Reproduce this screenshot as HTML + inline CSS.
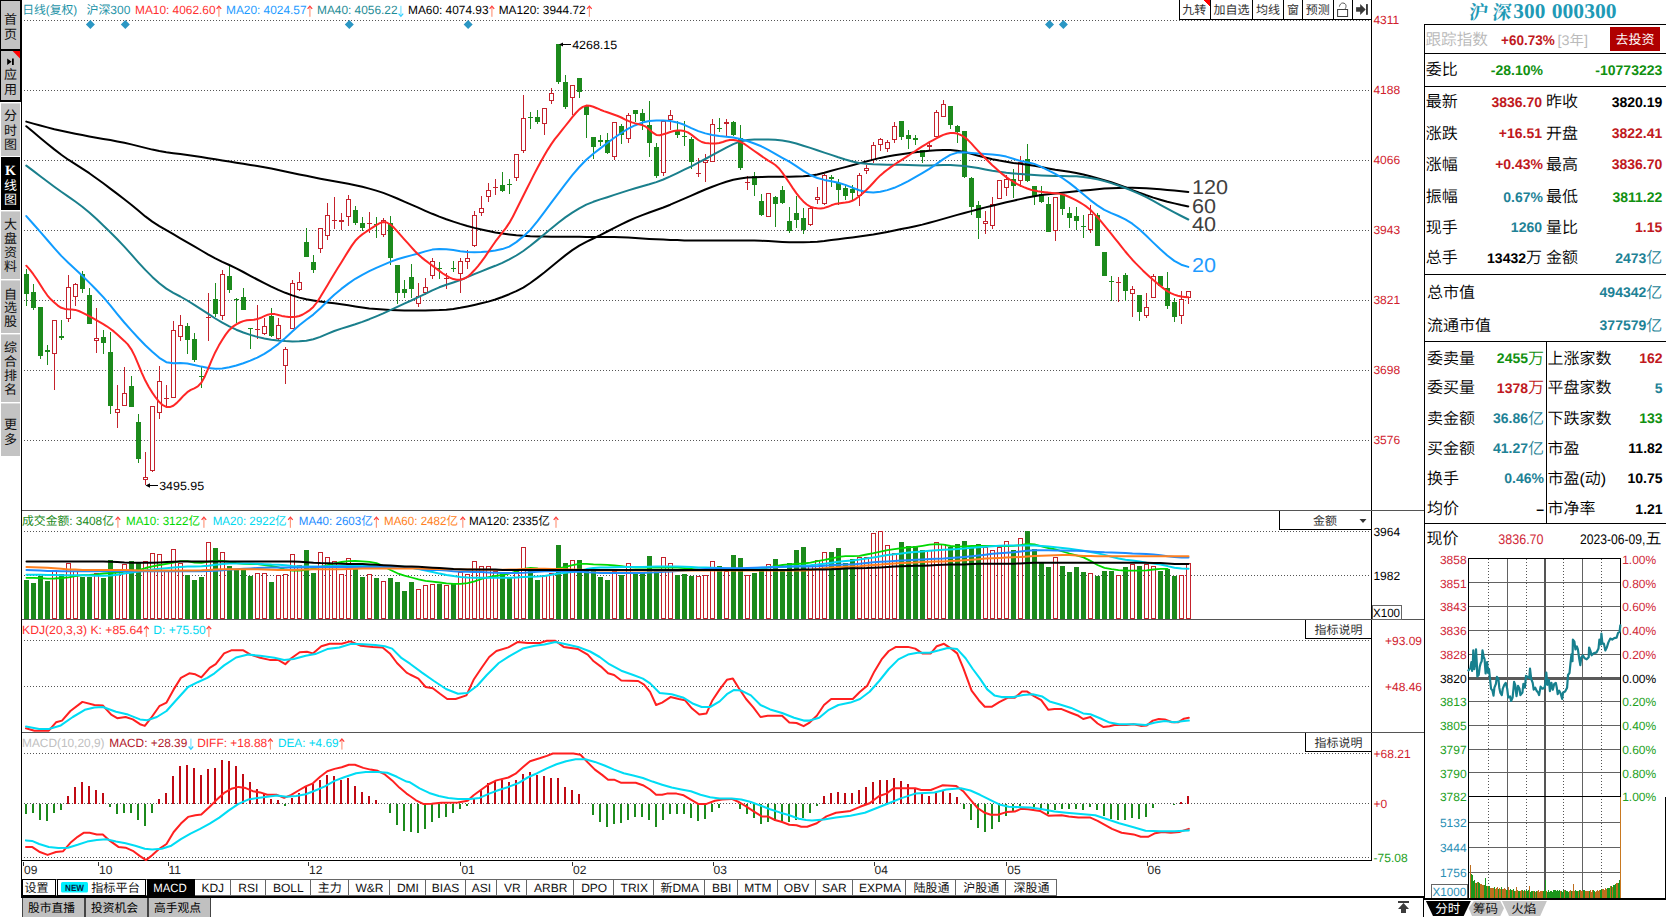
<!DOCTYPE html><html><head><meta charset="utf-8"><title>沪深300 K线图</title><style>html,body{margin:0;padding:0;background:#fff;overflow:hidden}svg{display:block}</style></head><body><svg width="1666" height="917" viewBox="0 0 1666 917" font-family='"Liberation Sans", "Noto Sans CJK SC", sans-serif' font-size="12" shape-rendering="crispEdges" text-rendering="geometricPrecision">
<rect width="1666" height="917" fill="#fff"/>
<g id="sidebar">
<rect x="0" y="0" width="22" height="102" fill="#000"/>
<rect x="1" y="1" width="19" height="47.5" fill="#c3c3c3"/>
<rect x="1" y="51" width="19" height="49.3" fill="#c3c3c3"/>
<polygon points="12.6,51 20,51 20,58.5" fill="#f00" shape-rendering="geometricPrecision"/>
<rect x="21" y="0" width="1" height="898" fill="#000"/>
<rect x="1" y="103" width="19" height="52.5" fill="#c3c3c3"/>
<rect x="1" y="103" width="19" height="1" fill="#dcdcdc"/>
<rect x="1" y="156.5" width="19" height="53.5" fill="#000"/>
<rect x="1" y="211" width="19" height="68" fill="#c3c3c3"/>
<rect x="1" y="211" width="19" height="1" fill="#dcdcdc"/>
<rect x="1" y="280" width="19" height="52.60000000000002" fill="#c3c3c3"/>
<rect x="1" y="280" width="19" height="1" fill="#dcdcdc"/>
<rect x="1" y="334" width="19" height="67.80000000000001" fill="#c3c3c3"/>
<rect x="1" y="334" width="19" height="1" fill="#dcdcdc"/>
<rect x="1" y="403" width="19" height="52.5" fill="#c3c3c3"/>
<rect x="1" y="403" width="19" height="1" fill="#dcdcdc"/>
<text x="10.5" y="24.0" font-size="13" fill="#111" text-anchor="middle" font-family='"Liberation Sans", "Noto Sans CJK SC", sans-serif'>首</text>
<text x="10.5" y="38.7" font-size="13" fill="#111" text-anchor="middle" font-family='"Liberation Sans", "Noto Sans CJK SC", sans-serif'>页</text>
<g shape-rendering="geometricPrecision"><polygon points="7.2,58.5 7.2,65 11.6,61.7" fill="#000"/><rect x="12" y="58.5" width="1.8" height="6.5" fill="#000"/></g>
<text x="10.5" y="79.2" font-size="13" fill="#111" text-anchor="middle" font-family='"Liberation Sans", "Noto Sans CJK SC", sans-serif'>应</text>
<text x="10.5" y="94.2" font-size="13" fill="#111" text-anchor="middle" font-family='"Liberation Sans", "Noto Sans CJK SC", sans-serif'>用</text>
<text x="10.5" y="120.3" font-size="13" fill="#111" text-anchor="middle" font-family='"Liberation Sans", "Noto Sans CJK SC", sans-serif'>分</text>
<text x="10.5" y="135.1" font-size="13" fill="#111" text-anchor="middle" font-family='"Liberation Sans", "Noto Sans CJK SC", sans-serif'>时</text>
<text x="10.5" y="149.1" font-size="13" fill="#111" text-anchor="middle" font-family='"Liberation Sans", "Noto Sans CJK SC", sans-serif'>图</text>
<text x="10.5" y="175" font-size="14" fill="#fff" text-anchor="middle" font-family='"Liberation Serif", "Noto Serif CJK SC", serif' font-weight="bold">K</text>
<text x="10.5" y="189.7" font-size="13" fill="#fff" text-anchor="middle" font-family='"Liberation Sans", "Noto Sans CJK SC", sans-serif'>线</text>
<text x="10.5" y="203.7" font-size="13" fill="#fff" text-anchor="middle" font-family='"Liberation Sans", "Noto Sans CJK SC", sans-serif'>图</text>
<text x="10.5" y="228.7" font-size="13" fill="#111" text-anchor="middle" font-family='"Liberation Sans", "Noto Sans CJK SC", sans-serif'>大</text>
<text x="10.5" y="242.7" font-size="13" fill="#111" text-anchor="middle" font-family='"Liberation Sans", "Noto Sans CJK SC", sans-serif'>盘</text>
<text x="10.5" y="256.7" font-size="13" fill="#111" text-anchor="middle" font-family='"Liberation Sans", "Noto Sans CJK SC", sans-serif'>资</text>
<text x="10.5" y="270.7" font-size="13" fill="#111" text-anchor="middle" font-family='"Liberation Sans", "Noto Sans CJK SC", sans-serif'>料</text>
<text x="10.5" y="298.7" font-size="13" fill="#111" text-anchor="middle" font-family='"Liberation Sans", "Noto Sans CJK SC", sans-serif'>自</text>
<text x="10.5" y="312.3" font-size="13" fill="#111" text-anchor="middle" font-family='"Liberation Sans", "Noto Sans CJK SC", sans-serif'>选</text>
<text x="10.5" y="325.7" font-size="13" fill="#111" text-anchor="middle" font-family='"Liberation Sans", "Noto Sans CJK SC", sans-serif'>股</text>
<text x="10.5" y="352.2" font-size="13" fill="#111" text-anchor="middle" font-family='"Liberation Sans", "Noto Sans CJK SC", sans-serif'>综</text>
<text x="10.5" y="366.2" font-size="13" fill="#111" text-anchor="middle" font-family='"Liberation Sans", "Noto Sans CJK SC", sans-serif'>合</text>
<text x="10.5" y="379.7" font-size="13" fill="#111" text-anchor="middle" font-family='"Liberation Sans", "Noto Sans CJK SC", sans-serif'>排</text>
<text x="10.5" y="393.7" font-size="13" fill="#111" text-anchor="middle" font-family='"Liberation Sans", "Noto Sans CJK SC", sans-serif'>名</text>
<text x="10.5" y="429.3" font-size="13" fill="#111" text-anchor="middle" font-family='"Liberation Sans", "Noto Sans CJK SC", sans-serif'>更</text>
<text x="10.5" y="444.0" font-size="13" fill="#111" text-anchor="middle" font-family='"Liberation Sans", "Noto Sans CJK SC", sans-serif'>多</text>
</g>
<g id="frame">
<rect x="1371" y="0" width="1" height="861" fill="#000"/>
<rect x="22" y="510" width="1402" height="1" fill="#555"/>
<rect x="22" y="619" width="1402" height="1" fill="#555"/>
<rect x="22" y="732" width="1402" height="1" fill="#555"/>
<rect x="22" y="860" width="1350" height="1.4" fill="#000"/>
<line x1="24" y1="20.5" x2="1370" y2="20.5" stroke="#555" stroke-width="1" stroke-dasharray="1 2"/>
<line x1="24" y1="90.5" x2="1370" y2="90.5" stroke="#555" stroke-width="1" stroke-dasharray="1 2"/>
<line x1="24" y1="160.5" x2="1370" y2="160.5" stroke="#555" stroke-width="1" stroke-dasharray="1 2"/>
<line x1="24" y1="230.5" x2="1370" y2="230.5" stroke="#555" stroke-width="1" stroke-dasharray="1 2"/>
<line x1="24" y1="300.5" x2="1370" y2="300.5" stroke="#555" stroke-width="1" stroke-dasharray="1 2"/>
<line x1="24" y1="370.5" x2="1370" y2="370.5" stroke="#555" stroke-width="1" stroke-dasharray="1 2"/>
<line x1="24" y1="440.5" x2="1370" y2="440.5" stroke="#555" stroke-width="1" stroke-dasharray="1 2"/>
<line x1="24" y1="531.5" x2="1370" y2="531.5" stroke="#555" stroke-width="1" stroke-dasharray="1 2"/>
<line x1="24" y1="575.5" x2="1370" y2="575.5" stroke="#555" stroke-width="1" stroke-dasharray="1 2"/>
<line x1="24" y1="640.5" x2="1370" y2="640.5" stroke="#555" stroke-width="1" stroke-dasharray="1 2"/>
<line x1="24" y1="686.5" x2="1370" y2="686.5" stroke="#555" stroke-width="1" stroke-dasharray="1 2"/>
<line x1="24" y1="753.5" x2="1370" y2="753.5" stroke="#555" stroke-width="1" stroke-dasharray="1 2"/>
<line x1="24" y1="803.5" x2="1370" y2="803.5" stroke="#555" stroke-width="1" stroke-dasharray="1 2"/>
<line x1="24" y1="857.5" x2="1370" y2="857.5" stroke="#555" stroke-width="1" stroke-dasharray="1 2"/>
</g>
<text x="22.3" y="14" font-size="12" fill="#1f94a8" textLength="55" lengthAdjust="spacingAndGlyphs">日线(复权)</text>
<text x="86.4" y="14" font-size="12" fill="#1f94a8" textLength="44" lengthAdjust="spacingAndGlyphs">沪深300</text>
<text x="135" y="14" font-size="12" fill="#ff3030" textLength="80.5" lengthAdjust="spacingAndGlyphs">MA10: 4062.60</text>
<g shape-rendering="geometricPrecision"><rect x="218.3" y="6.8" width="1.2" height="10.0" fill="#ff9a80"/><path d="M216.6 8.9 L218.9 6.2 L221.2 8.9" fill="none" stroke="#ff3a3a" stroke-width="1.2"/></g>
<text x="226" y="14" font-size="12" fill="#1e9bff" textLength="80.5" lengthAdjust="spacingAndGlyphs">MA20: 4024.57</text>
<g shape-rendering="geometricPrecision"><rect x="309.3" y="6.8" width="1.2" height="10.0" fill="#ff9a80"/><path d="M307.6 8.9 L309.9 6.2 L312.2 8.9" fill="none" stroke="#ff3a3a" stroke-width="1.2"/></g>
<text x="317" y="14" font-size="12" fill="#1f8c96" textLength="80.5" lengthAdjust="spacingAndGlyphs">MA40: 4056.22</text>
<g shape-rendering="geometricPrecision"><rect x="400.3" y="5.8" width="1.2" height="10.0" fill="#7fe4ff"/><path d="M398.6 13.7 L400.9 16.4 L403.2 13.7" fill="none" stroke="#30d0ff" stroke-width="1.2"/></g>
<text x="408" y="14" font-size="12" fill="#000" textLength="80.5" lengthAdjust="spacingAndGlyphs">MA60: 4074.93</text>
<g shape-rendering="geometricPrecision"><rect x="491.3" y="6.8" width="1.2" height="10.0" fill="#ff9a80"/><path d="M489.6 8.9 L491.9 6.2 L494.2 8.9" fill="none" stroke="#ff3a3a" stroke-width="1.2"/></g>
<text x="498.7" y="14" font-size="12" fill="#000" textLength="87" lengthAdjust="spacingAndGlyphs">MA120: 3944.72</text>
<g shape-rendering="geometricPrecision"><rect x="588.8" y="6.8" width="1.2" height="10.0" fill="#ff9a80"/><path d="M587.1 8.9 L589.4 6.2 L591.7 8.9" fill="none" stroke="#ff3a3a" stroke-width="1.2"/></g>
<polygon points="85.9,24.6 90.4,20.1 94.9,24.6 90.4,29.1" fill="#2b97c4" shape-rendering="geometricPrecision"/>
<polygon points="120.8,24.6 125.3,20.1 129.8,24.6 125.3,29.1" fill="#2b97c4" shape-rendering="geometricPrecision"/>
<polygon points="344.8,24.6 349.3,20.1 353.8,24.6 349.3,29.1" fill="#2b97c4" shape-rendering="geometricPrecision"/>
<polygon points="463.6,24.6 468.1,20.1 472.6,24.6 468.1,29.1" fill="#2b97c4" shape-rendering="geometricPrecision"/>
<polygon points="1045.0,24.6 1049.5,20.1 1054.0,24.6 1049.5,29.1" fill="#2b97c4" shape-rendering="geometricPrecision"/>
<polygon points="1058.9,24.6 1063.4,20.1 1067.9,24.6 1063.4,29.1" fill="#2b97c4" shape-rendering="geometricPrecision"/>
<g id="toolbar">
<rect x="1179.5" y="-1" width="192" height="20.5" fill="#fff" stroke="#000" stroke-width="1"/>
<rect x="1210" y="0" width="1" height="19.5" fill="#000"/>
<rect x="1252" y="0" width="1" height="19.5" fill="#000"/>
<rect x="1283" y="0" width="1" height="19.5" fill="#000"/>
<rect x="1302" y="0" width="1" height="19.5" fill="#000"/>
<rect x="1333" y="0" width="1" height="19.5" fill="#000"/>
<rect x="1352" y="0" width="1" height="19.5" fill="#000"/>
<polygon points="1203,0 1210,0 1210,7" fill="#f00"/>
<text x="1194.25" y="13.8" font-size="12" fill="#333" text-anchor="middle" font-family='"Liberation Sans", "Noto Sans CJK SC", sans-serif'>九转</text>
<text x="1231.4499999999998" y="13.8" font-size="12" fill="#333" text-anchor="middle" font-family='"Liberation Sans", "Noto Sans CJK SC", sans-serif'>加自选</text>
<text x="1268.0" y="13.8" font-size="12" fill="#333" text-anchor="middle" font-family='"Liberation Sans", "Noto Sans CJK SC", sans-serif'>均线</text>
<text x="1292.9" y="13.8" font-size="12" fill="#333" text-anchor="middle" font-family='"Liberation Sans", "Noto Sans CJK SC", sans-serif'>窗</text>
<text x="1317.8000000000002" y="13.8" font-size="12" fill="#333" text-anchor="middle" font-family='"Liberation Sans", "Noto Sans CJK SC", sans-serif'>预测</text>
<g shape-rendering="geometricPrecision" fill="none" stroke="#3c3c3c" stroke-width="1"><rect x="1337.6" y="9.5" width="10" height="7"/><path d="M1344.7 9.3 C1346.6 7.6 1346.9 3.1 1342.7 3 C1340.9 3 1339.7 4.8 1339.4 6.6" stroke="#555"/></g>
<g shape-rendering="geometricPrecision" fill="#383838"><rect x="1356.1" y="7.2" width="5" height="4.5"/><polygon points="1360.2,4.1 1365.7,9.5 1360.2,14.9"/><rect x="1366" y="4.1" width="1.9" height="10.7"/></g>
</g>
<text x="1373.4" y="24" font-size="12" fill="#d0202c">4311</text>
<text x="1373.4" y="94" font-size="12" fill="#d0202c">4188</text>
<text x="1373.4" y="164" font-size="12" fill="#d0202c">4066</text>
<text x="1373.4" y="234" font-size="12" fill="#d0202c">3943</text>
<text x="1373.4" y="304" font-size="12" fill="#d0202c">3821</text>
<text x="1373.4" y="374" font-size="12" fill="#d0202c">3698</text>
<text x="1373.4" y="444" font-size="12" fill="#d0202c">3576</text>
<g id="candles">
<rect x="26.0" y="269.2" width="1" height="36.8" fill="#1c8a1c"/>
<rect x="24.0" y="274.2" width="5" height="20.0" fill="#1c8a1c"/>
<rect x="33.0" y="283.6" width="1" height="26.4" fill="#1c8a1c"/>
<rect x="31.0" y="291.8" width="5" height="16.2" fill="#1c8a1c"/>
<rect x="40.0" y="307.0" width="1" height="52.0" fill="#1c8a1c"/>
<rect x="38.0" y="307.1" width="5" height="48.9" fill="#1c8a1c"/>
<rect x="47.0" y="345.4" width="1" height="19.5" fill="#1c8a1c"/>
<rect x="45.0" y="350.0" width="5" height="2.0" fill="#1c8a1c"/>
<rect x="54.0" y="354.3" width="1" height="35.6" fill="#c4222c"/>
<rect x="52.5" y="320.9" width="4" height="32.9" fill="#fff" stroke="#c4222c" stroke-width="1"/>
<rect x="61.0" y="320.4" width="1" height="20.0" fill="#1c8a1c"/>
<rect x="59.0" y="336.0" width="5" height="2.0" fill="#1c8a1c"/>
<rect x="68.0" y="275.0" width="1" height="12.4" fill="#c4222c"/>
<rect x="68.0" y="319.2" width="1" height="2.7" fill="#c4222c"/>
<rect x="66.5" y="287.9" width="4" height="30.8" fill="#fff" stroke="#c4222c" stroke-width="1"/>
<rect x="75.0" y="283.0" width="1" height="0.9" fill="#c4222c"/>
<rect x="75.0" y="297.1" width="1" height="8.9" fill="#c4222c"/>
<rect x="73.5" y="284.4" width="4" height="12.2" fill="#fff" stroke="#c4222c" stroke-width="1"/>
<rect x="82.0" y="271.2" width="1" height="21.5" fill="#1c8a1c"/>
<rect x="80.0" y="273.6" width="5" height="15.3" fill="#1c8a1c"/>
<rect x="89.0" y="288.0" width="1" height="35.6" fill="#1c8a1c"/>
<rect x="87.0" y="295.4" width="5" height="28.2" fill="#1c8a1c"/>
<rect x="96.0" y="308.0" width="1" height="29.5" fill="#c4222c"/>
<rect x="96.0" y="340.7" width="1" height="12.3" fill="#c4222c"/>
<rect x="94.5" y="338.0" width="4" height="2.2" fill="#fff" stroke="#c4222c" stroke-width="1"/>
<rect x="103.0" y="329.5" width="1" height="24.2" fill="#1c8a1c"/>
<rect x="101.0" y="336.9" width="5" height="5.9" fill="#1c8a1c"/>
<rect x="110.0" y="331.6" width="1" height="82.4" fill="#1c8a1c"/>
<rect x="108.0" y="352.2" width="5" height="53.6" fill="#1c8a1c"/>
<rect x="117.0" y="385.2" width="1" height="23.8" fill="#c4222c"/>
<rect x="117.0" y="412.6" width="1" height="15.3" fill="#c4222c"/>
<rect x="115.5" y="409.5" width="4" height="2.6" fill="#fff" stroke="#c4222c" stroke-width="1"/>
<rect x="124.0" y="366.9" width="1" height="25.9" fill="#c4222c"/>
<rect x="122.5" y="393.3" width="4" height="12.0" fill="#fff" stroke="#c4222c" stroke-width="1"/>
<rect x="131.0" y="375.8" width="1" height="30.9" fill="#1c8a1c"/>
<rect x="129.0" y="386.0" width="5" height="20.7" fill="#1c8a1c"/>
<rect x="138.0" y="414.0" width="1" height="49.2" fill="#1c8a1c"/>
<rect x="136.0" y="422.0" width="5" height="36.8" fill="#1c8a1c"/>
<rect x="145.0" y="452.3" width="1" height="25.0" fill="#c4222c"/>
<rect x="145.0" y="479.7" width="1" height="5.0" fill="#c4222c"/>
<rect x="143.5" y="477.8" width="4" height="1.4" fill="#fff" stroke="#c4222c" stroke-width="1"/>
<rect x="152.0" y="470.9" width="1" height="1.1" fill="#c4222c"/>
<rect x="150.5" y="406.6" width="4" height="63.8" fill="#fff" stroke="#c4222c" stroke-width="1"/>
<rect x="159.0" y="366.0" width="1" height="15.4" fill="#c4222c"/>
<rect x="159.0" y="412.6" width="1" height="6.1" fill="#c4222c"/>
<rect x="157.5" y="381.9" width="4" height="30.2" fill="#fff" stroke="#c4222c" stroke-width="1"/>
<rect x="166.0" y="385.2" width="1" height="21.5" fill="#c4222c"/>
<rect x="164.0" y="398.0" width="5" height="1" fill="#c4222c"/>
<rect x="173.0" y="321.3" width="1" height="8.8" fill="#c4222c"/>
<rect x="171.5" y="330.6" width="4" height="66.7" fill="#fff" stroke="#c4222c" stroke-width="1"/>
<rect x="180.0" y="314.8" width="1" height="10.6" fill="#c4222c"/>
<rect x="180.0" y="336.6" width="1" height="4.4" fill="#c4222c"/>
<rect x="178.5" y="325.9" width="4" height="10.2" fill="#fff" stroke="#c4222c" stroke-width="1"/>
<rect x="187.0" y="322.8" width="1" height="31.5" fill="#1c8a1c"/>
<rect x="185.0" y="326.0" width="5" height="13.5" fill="#1c8a1c"/>
<rect x="194.0" y="333.0" width="1" height="28.6" fill="#1c8a1c"/>
<rect x="192.0" y="339.0" width="5" height="20.6" fill="#1c8a1c"/>
<rect x="201.0" y="366.9" width="1" height="20.6" fill="#1c8a1c"/>
<rect x="199.0" y="375.8" width="5" height="1" fill="#1c8a1c"/>
<rect x="208.0" y="293.3" width="1" height="47.7" fill="#c4222c"/>
<rect x="206.0" y="317.0" width="5" height="1" fill="#c4222c"/>
<rect x="215.0" y="283.0" width="1" height="34.0" fill="#1c8a1c"/>
<rect x="213.0" y="299.3" width="5" height="14.7" fill="#1c8a1c"/>
<rect x="222.0" y="269.8" width="1" height="3.8" fill="#c4222c"/>
<rect x="222.0" y="316.3" width="1" height="3.6" fill="#c4222c"/>
<rect x="220.5" y="274.1" width="4" height="41.7" fill="#fff" stroke="#c4222c" stroke-width="1"/>
<rect x="229.0" y="266.0" width="1" height="27.4" fill="#1c8a1c"/>
<rect x="227.0" y="275.7" width="5" height="14.7" fill="#1c8a1c"/>
<rect x="236.0" y="297.8" width="1" height="25.6" fill="#1c8a1c"/>
<rect x="234.0" y="299.0" width="5" height="1" fill="#1c8a1c"/>
<rect x="243.0" y="288.4" width="1" height="21.2" fill="#1c8a1c"/>
<rect x="241.0" y="297.2" width="5" height="12.4" fill="#1c8a1c"/>
<rect x="250.0" y="328.7" width="1" height="20.0" fill="#1c8a1c"/>
<rect x="248.0" y="328.4" width="5" height="1" fill="#1c8a1c"/>
<rect x="257.0" y="305.1" width="1" height="23.6" fill="#c4222c"/>
<rect x="257.0" y="330.2" width="1" height="8.8" fill="#c4222c"/>
<rect x="255.5" y="329.2" width="4" height="0.5" fill="#fff" stroke="#c4222c" stroke-width="1"/>
<rect x="264.0" y="318.4" width="1" height="7.9" fill="#c4222c"/>
<rect x="264.0" y="333.7" width="1" height="1.5" fill="#c4222c"/>
<rect x="262.5" y="326.8" width="4" height="6.4" fill="#fff" stroke="#c4222c" stroke-width="1"/>
<rect x="271.0" y="308.1" width="1" height="28.8" fill="#1c8a1c"/>
<rect x="269.0" y="316.0" width="5" height="19.5" fill="#1c8a1c"/>
<rect x="278.0" y="318.4" width="1" height="6.8" fill="#c4222c"/>
<rect x="278.0" y="339.0" width="1" height="2.4" fill="#c4222c"/>
<rect x="276.5" y="325.7" width="4" height="12.8" fill="#fff" stroke="#c4222c" stroke-width="1"/>
<rect x="285.0" y="347.0" width="1" height="2.3" fill="#c4222c"/>
<rect x="285.0" y="366.4" width="1" height="17.4" fill="#c4222c"/>
<rect x="283.5" y="349.8" width="4" height="16.1" fill="#fff" stroke="#c4222c" stroke-width="1"/>
<rect x="292.0" y="280.1" width="1" height="3.0" fill="#c4222c"/>
<rect x="290.5" y="283.6" width="4" height="44.6" fill="#fff" stroke="#c4222c" stroke-width="1"/>
<rect x="299.0" y="271.9" width="1" height="9.7" fill="#c4222c"/>
<rect x="299.0" y="289.5" width="1" height="1.8" fill="#c4222c"/>
<rect x="297.5" y="282.1" width="4" height="6.9" fill="#fff" stroke="#c4222c" stroke-width="1"/>
<rect x="306.0" y="228.0" width="1" height="29.4" fill="#1c8a1c"/>
<rect x="304.0" y="241.8" width="5" height="14.8" fill="#1c8a1c"/>
<rect x="313.0" y="255.1" width="1" height="17.7" fill="#1c8a1c"/>
<rect x="311.0" y="262.4" width="5" height="7.4" fill="#1c8a1c"/>
<rect x="320.0" y="248.6" width="1" height="4.1" fill="#c4222c"/>
<rect x="318.5" y="228.2" width="4" height="19.9" fill="#fff" stroke="#c4222c" stroke-width="1"/>
<rect x="327.0" y="203.0" width="1" height="12.3" fill="#c4222c"/>
<rect x="327.0" y="236.0" width="1" height="4.4" fill="#c4222c"/>
<rect x="325.5" y="215.8" width="4" height="19.7" fill="#fff" stroke="#c4222c" stroke-width="1"/>
<rect x="334.0" y="197.1" width="1" height="31.5" fill="#c4222c"/>
<rect x="332.0" y="220.0" width="5" height="1" fill="#c4222c"/>
<rect x="341.0" y="213.0" width="1" height="7.3" fill="#c4222c"/>
<rect x="341.0" y="222.1" width="1" height="7.9" fill="#c4222c"/>
<rect x="339.5" y="220.8" width="4" height="0.8" fill="#fff" stroke="#c4222c" stroke-width="1"/>
<rect x="348.0" y="194.7" width="1" height="3.9" fill="#c4222c"/>
<rect x="348.0" y="216.8" width="1" height="8.8" fill="#c4222c"/>
<rect x="346.5" y="199.1" width="4" height="17.2" fill="#fff" stroke="#c4222c" stroke-width="1"/>
<rect x="355.0" y="205.9" width="1" height="18.9" fill="#1c8a1c"/>
<rect x="353.0" y="210.3" width="5" height="12.4" fill="#1c8a1c"/>
<rect x="362.0" y="217.4" width="1" height="13.2" fill="#1c8a1c"/>
<rect x="360.0" y="223.3" width="5" height="4.4" fill="#1c8a1c"/>
<rect x="369.0" y="212.4" width="1" height="20.6" fill="#c4222c"/>
<rect x="367.0" y="223.0" width="5" height="1" fill="#c4222c"/>
<rect x="376.0" y="217.4" width="1" height="20.9" fill="#1c8a1c"/>
<rect x="374.0" y="224.0" width="5" height="1" fill="#1c8a1c"/>
<rect x="383.0" y="218.3" width="1" height="2.0" fill="#c4222c"/>
<rect x="383.0" y="235.4" width="1" height="2.0" fill="#c4222c"/>
<rect x="381.5" y="220.8" width="4" height="14.1" fill="#fff" stroke="#c4222c" stroke-width="1"/>
<rect x="390.0" y="215.9" width="1" height="49.5" fill="#1c8a1c"/>
<rect x="388.0" y="222.7" width="5" height="35.3" fill="#1c8a1c"/>
<rect x="397.0" y="264.5" width="1" height="39.2" fill="#1c8a1c"/>
<rect x="395.0" y="264.5" width="5" height="28.9" fill="#1c8a1c"/>
<rect x="404.0" y="280.2" width="1" height="18.2" fill="#1c8a1c"/>
<rect x="402.0" y="289.0" width="5" height="3.8" fill="#1c8a1c"/>
<rect x="411.0" y="264.0" width="1" height="34.4" fill="#1c8a1c"/>
<rect x="409.0" y="277.2" width="5" height="11.8" fill="#1c8a1c"/>
<rect x="418.0" y="283.1" width="1" height="12.4" fill="#c4222c"/>
<rect x="418.0" y="303.7" width="1" height="3.0" fill="#c4222c"/>
<rect x="416.5" y="296.0" width="4" height="7.2" fill="#fff" stroke="#c4222c" stroke-width="1"/>
<rect x="425.0" y="278.1" width="1" height="8.6" fill="#c4222c"/>
<rect x="425.0" y="292.8" width="1" height="2.1" fill="#c4222c"/>
<rect x="423.5" y="287.2" width="4" height="5.1" fill="#fff" stroke="#c4222c" stroke-width="1"/>
<rect x="432.0" y="258.1" width="1" height="2.9" fill="#c4222c"/>
<rect x="432.0" y="275.8" width="1" height="2.9" fill="#c4222c"/>
<rect x="430.5" y="261.5" width="4" height="13.8" fill="#fff" stroke="#c4222c" stroke-width="1"/>
<rect x="439.0" y="261.9" width="1" height="16.8" fill="#1c8a1c"/>
<rect x="437.0" y="268.0" width="5" height="1" fill="#1c8a1c"/>
<rect x="446.0" y="272.8" width="1" height="16.2" fill="#c4222c"/>
<rect x="444.0" y="278.3" width="5" height="1" fill="#c4222c"/>
<rect x="453.0" y="261.0" width="1" height="11.2" fill="#1c8a1c"/>
<rect x="451.0" y="268.0" width="5" height="1" fill="#1c8a1c"/>
<rect x="460.0" y="258.1" width="1" height="2.9" fill="#c4222c"/>
<rect x="460.0" y="273.7" width="1" height="19.1" fill="#c4222c"/>
<rect x="458.5" y="261.5" width="4" height="11.7" fill="#fff" stroke="#c4222c" stroke-width="1"/>
<rect x="467.0" y="249.8" width="1" height="8.3" fill="#c4222c"/>
<rect x="467.0" y="261.6" width="1" height="7.4" fill="#c4222c"/>
<rect x="465.5" y="258.6" width="4" height="2.5" fill="#fff" stroke="#c4222c" stroke-width="1"/>
<rect x="474.0" y="211.0" width="1" height="4.4" fill="#c4222c"/>
<rect x="474.0" y="245.7" width="1" height="1.2" fill="#c4222c"/>
<rect x="472.5" y="215.9" width="4" height="29.3" fill="#fff" stroke="#c4222c" stroke-width="1"/>
<rect x="481.0" y="196.3" width="1" height="11.7" fill="#c4222c"/>
<rect x="481.0" y="213.3" width="1" height="2.7" fill="#c4222c"/>
<rect x="479.5" y="208.5" width="4" height="4.3" fill="#fff" stroke="#c4222c" stroke-width="1"/>
<rect x="488.0" y="183.0" width="1" height="6.5" fill="#c4222c"/>
<rect x="488.0" y="196.5" width="1" height="5.1" fill="#c4222c"/>
<rect x="486.5" y="190.0" width="4" height="6.0" fill="#fff" stroke="#c4222c" stroke-width="1"/>
<rect x="495.0" y="178.6" width="1" height="16.8" fill="#c4222c"/>
<rect x="493.0" y="187.0" width="5" height="1" fill="#c4222c"/>
<rect x="502.0" y="172.2" width="1" height="19.8" fill="#1c8a1c"/>
<rect x="500.0" y="185.2" width="5" height="5.9" fill="#1c8a1c"/>
<rect x="509.0" y="179.3" width="1" height="15.0" fill="#1c8a1c"/>
<rect x="507.0" y="184.2" width="5" height="1" fill="#1c8a1c"/>
<rect x="516.0" y="177.8" width="1" height="3.0" fill="#c4222c"/>
<rect x="514.5" y="154.8" width="4" height="22.5" fill="#fff" stroke="#c4222c" stroke-width="1"/>
<rect x="523.0" y="95.4" width="1" height="22.9" fill="#c4222c"/>
<rect x="523.0" y="151.3" width="1" height="1.8" fill="#c4222c"/>
<rect x="521.5" y="118.8" width="4" height="32.0" fill="#fff" stroke="#c4222c" stroke-width="1"/>
<rect x="530.0" y="112.4" width="1" height="16.2" fill="#1c8a1c"/>
<rect x="528.0" y="117.0" width="5" height="1" fill="#1c8a1c"/>
<rect x="537.0" y="110.1" width="1" height="14.1" fill="#1c8a1c"/>
<rect x="535.0" y="116.9" width="5" height="5.0" fill="#1c8a1c"/>
<rect x="544.0" y="124.2" width="1" height="11.2" fill="#c4222c"/>
<rect x="542.5" y="108.5" width="4" height="15.2" fill="#fff" stroke="#c4222c" stroke-width="1"/>
<rect x="551.0" y="88.0" width="1" height="4.7" fill="#c4222c"/>
<rect x="551.0" y="100.7" width="1" height="2.9" fill="#c4222c"/>
<rect x="549.5" y="93.2" width="4" height="7.0" fill="#fff" stroke="#c4222c" stroke-width="1"/>
<rect x="558.0" y="44.0" width="1" height="39.9" fill="#1c8a1c"/>
<rect x="556.0" y="44.0" width="5" height="38.4" fill="#1c8a1c"/>
<rect x="565.0" y="75.0" width="1" height="33.9" fill="#1c8a1c"/>
<rect x="563.0" y="82.4" width="5" height="24.2" fill="#1c8a1c"/>
<rect x="572.0" y="98.3" width="1" height="17.1" fill="#c4222c"/>
<rect x="570.5" y="85.9" width="4" height="11.9" fill="#fff" stroke="#c4222c" stroke-width="1"/>
<rect x="579.0" y="78.0" width="1" height="20.3" fill="#1c8a1c"/>
<rect x="577.0" y="78.0" width="5" height="14.4" fill="#1c8a1c"/>
<rect x="586.0" y="106.0" width="1" height="31.5" fill="#1c8a1c"/>
<rect x="584.0" y="106.0" width="5" height="9.4" fill="#1c8a1c"/>
<rect x="593.0" y="136.6" width="1" height="22.1" fill="#1c8a1c"/>
<rect x="591.0" y="136.6" width="5" height="10.3" fill="#1c8a1c"/>
<rect x="600.0" y="134.5" width="1" height="11.8" fill="#1c8a1c"/>
<rect x="598.0" y="139.5" width="5" height="2.4" fill="#1c8a1c"/>
<rect x="607.0" y="133.0" width="1" height="20.7" fill="#1c8a1c"/>
<rect x="605.0" y="140.4" width="5" height="12.4" fill="#1c8a1c"/>
<rect x="614.0" y="157.2" width="1" height="2.4" fill="#c4222c"/>
<rect x="612.5" y="122.7" width="4" height="34.0" fill="#fff" stroke="#c4222c" stroke-width="1"/>
<rect x="621.0" y="123.6" width="1" height="20.4" fill="#1c8a1c"/>
<rect x="619.0" y="125.7" width="5" height="9.4" fill="#1c8a1c"/>
<rect x="628.0" y="113.3" width="1" height="2.1" fill="#c4222c"/>
<rect x="628.0" y="139.0" width="1" height="4.4" fill="#c4222c"/>
<rect x="626.5" y="115.9" width="4" height="22.6" fill="#fff" stroke="#c4222c" stroke-width="1"/>
<rect x="635.0" y="110.1" width="1" height="11.8" fill="#1c8a1c"/>
<rect x="633.0" y="110.1" width="5" height="3.8" fill="#1c8a1c"/>
<rect x="642.0" y="108.6" width="1" height="21.5" fill="#1c8a1c"/>
<rect x="640.0" y="113.3" width="5" height="8.0" fill="#1c8a1c"/>
<rect x="649.0" y="101.3" width="1" height="55.3" fill="#1c8a1c"/>
<rect x="647.0" y="124.8" width="5" height="17.7" fill="#1c8a1c"/>
<rect x="656.0" y="143.4" width="1" height="34.7" fill="#1c8a1c"/>
<rect x="654.0" y="146.9" width="5" height="29.4" fill="#1c8a1c"/>
<rect x="663.0" y="173.4" width="1" height="2.4" fill="#c4222c"/>
<rect x="661.5" y="121.8" width="4" height="51.1" fill="#fff" stroke="#c4222c" stroke-width="1"/>
<rect x="670.0" y="109.5" width="1" height="5.0" fill="#c4222c"/>
<rect x="670.0" y="120.4" width="1" height="9.7" fill="#c4222c"/>
<rect x="668.5" y="115.0" width="4" height="4.9" fill="#fff" stroke="#c4222c" stroke-width="1"/>
<rect x="677.0" y="121.3" width="1" height="16.8" fill="#1c8a1c"/>
<rect x="675.0" y="130.1" width="5" height="5.3" fill="#1c8a1c"/>
<rect x="684.0" y="121.3" width="1" height="24.4" fill="#1c8a1c"/>
<rect x="682.0" y="135.5" width="5" height="1" fill="#1c8a1c"/>
<rect x="691.0" y="136.9" width="1" height="32.1" fill="#1c8a1c"/>
<rect x="689.0" y="139.0" width="5" height="22.6" fill="#1c8a1c"/>
<rect x="698.0" y="158.0" width="1" height="18.9" fill="#c4222c"/>
<rect x="696.0" y="172.5" width="5" height="1" fill="#c4222c"/>
<rect x="705.0" y="154.2" width="1" height="5.9" fill="#c4222c"/>
<rect x="705.0" y="162.5" width="1" height="19.1" fill="#c4222c"/>
<rect x="703.5" y="160.6" width="4" height="1.4" fill="#fff" stroke="#c4222c" stroke-width="1"/>
<rect x="712.0" y="118.9" width="1" height="5.3" fill="#c4222c"/>
<rect x="710.5" y="124.7" width="4" height="36.4" fill="#fff" stroke="#c4222c" stroke-width="1"/>
<rect x="719.0" y="118.0" width="1" height="14.1" fill="#1c8a1c"/>
<rect x="717.0" y="127.8" width="5" height="1" fill="#1c8a1c"/>
<rect x="726.0" y="118.9" width="1" height="2.9" fill="#c4222c"/>
<rect x="726.0" y="124.2" width="1" height="11.8" fill="#c4222c"/>
<rect x="724.5" y="122.3" width="4" height="1.4" fill="#fff" stroke="#c4222c" stroke-width="1"/>
<rect x="733.0" y="121.0" width="1" height="15.0" fill="#1c8a1c"/>
<rect x="731.0" y="121.8" width="5" height="12.7" fill="#1c8a1c"/>
<rect x="740.0" y="125.4" width="1" height="44.1" fill="#1c8a1c"/>
<rect x="738.0" y="138.0" width="5" height="30.4" fill="#1c8a1c"/>
<rect x="747.0" y="176.3" width="1" height="13.3" fill="#c4222c"/>
<rect x="745.0" y="182.0" width="5" height="1" fill="#c4222c"/>
<rect x="754.0" y="171.9" width="1" height="23.6" fill="#1c8a1c"/>
<rect x="752.0" y="176.3" width="5" height="8.3" fill="#1c8a1c"/>
<rect x="761.0" y="194.0" width="1" height="21.5" fill="#1c8a1c"/>
<rect x="759.0" y="201.3" width="5" height="13.3" fill="#1c8a1c"/>
<rect x="766.5" y="193.0" width="4" height="23.5" fill="#fff" stroke="#c4222c" stroke-width="1"/>
<rect x="775.0" y="196.0" width="1" height="31.0" fill="#1c8a1c"/>
<rect x="773.0" y="196.9" width="5" height="7.4" fill="#1c8a1c"/>
<rect x="782.0" y="186.0" width="1" height="18.3" fill="#1c8a1c"/>
<rect x="780.0" y="190.2" width="5" height="13.2" fill="#1c8a1c"/>
<rect x="789.0" y="207.2" width="1" height="25.7" fill="#1c8a1c"/>
<rect x="787.0" y="221.4" width="5" height="9.4" fill="#1c8a1c"/>
<rect x="796.0" y="196.0" width="1" height="31.8" fill="#1c8a1c"/>
<rect x="794.0" y="213.1" width="5" height="6.5" fill="#1c8a1c"/>
<rect x="803.0" y="208.1" width="1" height="25.6" fill="#1c8a1c"/>
<rect x="801.0" y="218.4" width="5" height="11.8" fill="#1c8a1c"/>
<rect x="810.0" y="205.8" width="1" height="2.3" fill="#c4222c"/>
<rect x="810.0" y="224.9" width="1" height="0.9" fill="#c4222c"/>
<rect x="808.5" y="208.6" width="4" height="15.8" fill="#fff" stroke="#c4222c" stroke-width="1"/>
<rect x="817.0" y="187.2" width="1" height="9.7" fill="#c4222c"/>
<rect x="817.0" y="199.9" width="1" height="3.8" fill="#c4222c"/>
<rect x="815.5" y="197.4" width="4" height="2.0" fill="#fff" stroke="#c4222c" stroke-width="1"/>
<rect x="824.0" y="174.0" width="1" height="0.8" fill="#c4222c"/>
<rect x="824.0" y="204.3" width="1" height="0.9" fill="#c4222c"/>
<rect x="822.5" y="175.3" width="4" height="28.5" fill="#fff" stroke="#c4222c" stroke-width="1"/>
<rect x="831.0" y="174.8" width="1" height="12.4" fill="#1c8a1c"/>
<rect x="829.0" y="176.9" width="5" height="2.4" fill="#1c8a1c"/>
<rect x="838.0" y="179.3" width="1" height="25.6" fill="#1c8a1c"/>
<rect x="836.0" y="183.1" width="5" height="6.5" fill="#1c8a1c"/>
<rect x="845.0" y="185.1" width="1" height="14.8" fill="#1c8a1c"/>
<rect x="843.0" y="187.5" width="5" height="8.8" fill="#1c8a1c"/>
<rect x="852.0" y="185.1" width="1" height="16.2" fill="#1c8a1c"/>
<rect x="850.0" y="188.7" width="5" height="3.8" fill="#1c8a1c"/>
<rect x="859.0" y="173.4" width="1" height="2.0" fill="#c4222c"/>
<rect x="859.0" y="195.5" width="1" height="10.3" fill="#c4222c"/>
<rect x="857.5" y="175.9" width="4" height="19.1" fill="#fff" stroke="#c4222c" stroke-width="1"/>
<rect x="866.0" y="164.5" width="1" height="3.9" fill="#c4222c"/>
<rect x="866.0" y="171.0" width="1" height="3.0" fill="#c4222c"/>
<rect x="864.5" y="168.9" width="4" height="1.6" fill="#fff" stroke="#c4222c" stroke-width="1"/>
<rect x="873.0" y="142.4" width="1" height="3.0" fill="#c4222c"/>
<rect x="873.0" y="160.1" width="1" height="2.4" fill="#c4222c"/>
<rect x="871.5" y="145.9" width="4" height="13.7" fill="#fff" stroke="#c4222c" stroke-width="1"/>
<rect x="880.0" y="138.0" width="1" height="0.6" fill="#c4222c"/>
<rect x="880.0" y="145.4" width="1" height="5.3" fill="#c4222c"/>
<rect x="878.5" y="139.1" width="4" height="5.8" fill="#fff" stroke="#c4222c" stroke-width="1"/>
<rect x="887.0" y="139.5" width="1" height="2.1" fill="#c4222c"/>
<rect x="887.0" y="148.9" width="1" height="3.0" fill="#c4222c"/>
<rect x="885.5" y="142.1" width="4" height="6.3" fill="#fff" stroke="#c4222c" stroke-width="1"/>
<rect x="894.0" y="121.8" width="1" height="4.5" fill="#c4222c"/>
<rect x="894.0" y="140.1" width="1" height="2.9" fill="#c4222c"/>
<rect x="892.5" y="126.8" width="4" height="12.8" fill="#fff" stroke="#c4222c" stroke-width="1"/>
<rect x="901.0" y="121.2" width="1" height="18.3" fill="#1c8a1c"/>
<rect x="899.0" y="121.2" width="5" height="15.9" fill="#1c8a1c"/>
<rect x="908.0" y="130.1" width="1" height="18.8" fill="#1c8a1c"/>
<rect x="906.0" y="135.1" width="5" height="3.8" fill="#1c8a1c"/>
<rect x="915.0" y="134.5" width="1" height="10.0" fill="#1c8a1c"/>
<rect x="913.0" y="138.0" width="5" height="2.1" fill="#1c8a1c"/>
<rect x="922.0" y="149.8" width="1" height="12.7" fill="#1c8a1c"/>
<rect x="920.0" y="149.8" width="5" height="6.8" fill="#1c8a1c"/>
<rect x="929.0" y="141.0" width="1" height="4.4" fill="#c4222c"/>
<rect x="929.0" y="146.9" width="1" height="4.4" fill="#c4222c"/>
<rect x="927.5" y="145.9" width="4" height="0.5" fill="#fff" stroke="#c4222c" stroke-width="1"/>
<rect x="936.0" y="110.1" width="1" height="1.4" fill="#c4222c"/>
<rect x="934.5" y="112.0" width="4" height="24.6" fill="#fff" stroke="#c4222c" stroke-width="1"/>
<rect x="943.0" y="99.8" width="1" height="3.8" fill="#c4222c"/>
<rect x="943.0" y="116.5" width="1" height="0.9" fill="#c4222c"/>
<rect x="941.5" y="104.1" width="4" height="11.9" fill="#fff" stroke="#c4222c" stroke-width="1"/>
<rect x="950.0" y="105.6" width="1" height="23.6" fill="#1c8a1c"/>
<rect x="948.0" y="106.2" width="5" height="19.2" fill="#1c8a1c"/>
<rect x="957.0" y="124.8" width="1" height="18.2" fill="#1c8a1c"/>
<rect x="955.0" y="125.7" width="5" height="5.9" fill="#1c8a1c"/>
<rect x="964.0" y="130.7" width="1" height="47.1" fill="#1c8a1c"/>
<rect x="962.0" y="130.7" width="5" height="46.2" fill="#1c8a1c"/>
<rect x="971.0" y="176.9" width="1" height="37.7" fill="#1c8a1c"/>
<rect x="969.0" y="178.4" width="5" height="28.8" fill="#1c8a1c"/>
<rect x="978.0" y="200.8" width="1" height="37.9" fill="#1c8a1c"/>
<rect x="976.0" y="204.9" width="5" height="12.6" fill="#1c8a1c"/>
<rect x="985.0" y="211.1" width="1" height="9.4" fill="#c4222c"/>
<rect x="985.0" y="224.0" width="1" height="9.7" fill="#c4222c"/>
<rect x="983.5" y="221.0" width="4" height="2.5" fill="#fff" stroke="#c4222c" stroke-width="1"/>
<rect x="992.0" y="196.9" width="1" height="6.8" fill="#c4222c"/>
<rect x="992.0" y="225.5" width="1" height="3.2" fill="#c4222c"/>
<rect x="990.5" y="204.2" width="4" height="20.8" fill="#fff" stroke="#c4222c" stroke-width="1"/>
<rect x="997.5" y="180.3" width="4" height="18.2" fill="#fff" stroke="#c4222c" stroke-width="1"/>
<rect x="1006.0" y="174.8" width="1" height="4.5" fill="#c4222c"/>
<rect x="1006.0" y="188.1" width="1" height="7.4" fill="#c4222c"/>
<rect x="1004.5" y="179.8" width="4" height="7.8" fill="#fff" stroke="#c4222c" stroke-width="1"/>
<rect x="1013.0" y="169.0" width="1" height="29.4" fill="#1c8a1c"/>
<rect x="1011.0" y="179.3" width="5" height="6.4" fill="#1c8a1c"/>
<rect x="1020.0" y="155.7" width="1" height="6.5" fill="#c4222c"/>
<rect x="1020.0" y="180.7" width="1" height="5.9" fill="#c4222c"/>
<rect x="1018.5" y="162.7" width="4" height="17.5" fill="#fff" stroke="#c4222c" stroke-width="1"/>
<rect x="1027.0" y="143.9" width="1" height="38.3" fill="#1c8a1c"/>
<rect x="1025.0" y="159.2" width="5" height="21.5" fill="#1c8a1c"/>
<rect x="1034.0" y="186.0" width="1" height="18.9" fill="#1c8a1c"/>
<rect x="1032.0" y="186.0" width="5" height="10.0" fill="#1c8a1c"/>
<rect x="1041.0" y="186.0" width="1" height="16.8" fill="#1c8a1c"/>
<rect x="1039.0" y="194.0" width="5" height="7.9" fill="#1c8a1c"/>
<rect x="1048.0" y="196.9" width="1" height="34.8" fill="#1c8a1c"/>
<rect x="1046.0" y="203.7" width="5" height="28.0" fill="#1c8a1c"/>
<rect x="1055.0" y="231.4" width="1" height="9.1" fill="#c4222c"/>
<rect x="1053.5" y="197.4" width="4" height="33.5" fill="#fff" stroke="#c4222c" stroke-width="1"/>
<rect x="1062.0" y="194.0" width="1" height="20.6" fill="#1c8a1c"/>
<rect x="1060.0" y="194.0" width="5" height="15.3" fill="#1c8a1c"/>
<rect x="1069.0" y="207.2" width="1" height="21.2" fill="#1c8a1c"/>
<rect x="1067.0" y="213.1" width="5" height="5.3" fill="#1c8a1c"/>
<rect x="1076.0" y="207.2" width="1" height="22.9" fill="#1c8a1c"/>
<rect x="1074.0" y="216.0" width="5" height="5.3" fill="#1c8a1c"/>
<rect x="1083.0" y="215.4" width="1" height="22.1" fill="#1c8a1c"/>
<rect x="1081.0" y="226.0" width="5" height="1" fill="#1c8a1c"/>
<rect x="1090.0" y="205.1" width="1" height="8.8" fill="#c4222c"/>
<rect x="1090.0" y="229.5" width="1" height="3.0" fill="#c4222c"/>
<rect x="1088.5" y="214.4" width="4" height="14.6" fill="#fff" stroke="#c4222c" stroke-width="1"/>
<rect x="1097.0" y="213.3" width="1" height="32.4" fill="#1c8a1c"/>
<rect x="1095.0" y="215.4" width="5" height="30.3" fill="#1c8a1c"/>
<rect x="1104.0" y="252.2" width="1" height="24.1" fill="#1c8a1c"/>
<rect x="1102.0" y="252.2" width="5" height="24.1" fill="#1c8a1c"/>
<rect x="1111.0" y="275.8" width="1" height="25.0" fill="#1c8a1c"/>
<rect x="1109.0" y="281.0" width="5" height="1" fill="#1c8a1c"/>
<rect x="1118.0" y="277.2" width="1" height="24.5" fill="#c4222c"/>
<rect x="1116.0" y="282.0" width="5" height="1" fill="#c4222c"/>
<rect x="1125.0" y="272.8" width="1" height="28.0" fill="#1c8a1c"/>
<rect x="1123.0" y="274.9" width="5" height="15.6" fill="#1c8a1c"/>
<rect x="1132.0" y="286.0" width="1" height="3.0" fill="#c4222c"/>
<rect x="1132.0" y="294.3" width="1" height="22.7" fill="#c4222c"/>
<rect x="1130.5" y="289.5" width="4" height="4.3" fill="#fff" stroke="#c4222c" stroke-width="1"/>
<rect x="1139.0" y="294.9" width="1" height="25.9" fill="#1c8a1c"/>
<rect x="1137.0" y="294.9" width="5" height="16.8" fill="#1c8a1c"/>
<rect x="1146.0" y="292.5" width="1" height="14.8" fill="#c4222c"/>
<rect x="1146.0" y="316.4" width="1" height="1.5" fill="#c4222c"/>
<rect x="1144.5" y="307.8" width="4" height="8.1" fill="#fff" stroke="#c4222c" stroke-width="1"/>
<rect x="1153.0" y="273.7" width="1" height="2.6" fill="#c4222c"/>
<rect x="1151.5" y="276.8" width="4" height="21.1" fill="#fff" stroke="#c4222c" stroke-width="1"/>
<rect x="1160.0" y="276.3" width="1" height="10.7" fill="#1c8a1c"/>
<rect x="1158.0" y="276.3" width="5" height="9.8" fill="#1c8a1c"/>
<rect x="1167.0" y="272.2" width="1" height="36.5" fill="#1c8a1c"/>
<rect x="1165.0" y="288.4" width="5" height="17.4" fill="#1c8a1c"/>
<rect x="1174.0" y="297.8" width="1" height="24.2" fill="#1c8a1c"/>
<rect x="1172.0" y="302.3" width="5" height="14.7" fill="#1c8a1c"/>
<rect x="1181.0" y="291.4" width="1" height="7.9" fill="#c4222c"/>
<rect x="1181.0" y="315.5" width="1" height="8.3" fill="#c4222c"/>
<rect x="1179.5" y="299.8" width="4" height="15.2" fill="#fff" stroke="#c4222c" stroke-width="1"/>
<rect x="1188.0" y="297.8" width="1" height="5.9" fill="#c4222c"/>
<rect x="1186.5" y="291.0" width="4" height="6.3" fill="#fff" stroke="#c4222c" stroke-width="1"/>
</g>
<g id="ma" shape-rendering="geometricPrecision">
<polyline points="26.3,121.6 33.3,123.6 40.3,125.5 47.3,127.4 54.3,129.2 61.3,130.8 68.3,132.3 75.3,133.7 82.3,135.1 89.3,136.4 96.3,137.7 103.3,138.9 110.3,140.1 117.3,141.4 124.3,142.8 131.3,144.4 138.3,146.1 145.3,147.9 152.3,149.6 159.3,151.1 166.3,152.3 173.3,153.2 180.3,154.1 187.3,155.0 194.3,155.9 201.3,157.0 208.3,158.2 215.3,159.3 222.3,160.5 229.3,161.6 236.3,162.7 243.3,163.8 250.3,164.9 257.3,166.0 264.3,167.2 271.3,168.5 278.3,170.0 285.3,171.4 292.3,172.9 299.3,174.4 306.3,175.8 313.3,177.3 320.3,178.7 327.3,180.0 334.3,181.3 341.3,182.5 348.3,183.8 355.3,185.2 362.3,186.8 369.3,188.6 376.3,190.6 383.3,192.9 390.3,195.6 397.3,198.5 404.3,201.6 411.3,204.7 418.3,207.7 425.3,210.8 432.3,213.8 439.3,216.6 446.3,219.2 453.3,221.6 460.3,223.9 467.3,226.0 474.3,227.9 481.3,229.5 488.3,231.0 495.3,232.4 502.3,233.5 509.3,234.4 516.3,235.2 523.3,235.8 530.3,236.2 537.3,236.4 544.3,236.6 551.3,236.7 558.3,236.8 565.3,236.8 572.3,236.8 579.3,236.8 586.3,236.9 593.3,236.9 600.3,237.0 607.3,237.0 614.3,237.1 621.3,237.3 628.3,237.6 635.3,237.9 642.3,238.4 649.3,238.9 656.3,239.3 663.3,239.6 670.3,239.9 677.3,240.1 684.3,240.4 691.3,240.5 698.3,240.6 705.3,240.6 712.3,240.5 719.3,240.4 726.3,240.4 733.3,240.4 740.3,240.4 747.3,240.5 754.3,240.6 761.3,240.8 768.3,241.1 775.3,241.5 782.3,241.9 789.3,242.2 796.3,242.3 803.3,242.3 810.3,242.1 817.3,241.7 824.3,241.0 831.3,240.1 838.3,239.2 845.3,238.3 852.3,237.4 859.3,236.4 866.3,235.4 873.3,234.4 880.3,233.2 887.3,231.9 894.3,230.5 901.3,229.1 908.3,227.7 915.3,226.2 922.3,224.6 929.3,222.8 936.3,220.9 943.3,218.9 950.3,216.9 957.3,214.9 964.3,213.0 971.3,211.1 978.3,209.2 985.3,207.4 992.3,205.7 999.3,204.0 1006.3,202.3 1013.3,200.7 1020.3,199.1 1027.3,197.6 1034.3,196.3 1041.3,195.1 1048.3,194.2 1055.3,193.4 1062.3,192.7 1069.3,192.0 1076.3,191.3 1083.3,190.6 1090.3,189.9 1097.3,189.2 1104.3,188.6 1111.3,188.2 1118.3,187.9 1125.3,187.7 1132.3,187.7 1139.3,188.0 1146.3,188.3 1153.3,188.8 1160.3,189.3 1167.3,189.9 1174.3,190.5 1181.3,191.2 1188.3,191.9" fill="none" stroke="#000" stroke-width="2" stroke-linejoin="round" stroke-linecap="round"/>
<polyline points="26.3,126.2 33.3,132.0 40.3,137.9 47.3,143.7 54.3,149.4 61.3,154.8 68.3,159.7 75.3,164.1 82.3,168.6 89.3,173.2 96.3,178.2 103.3,183.3 110.3,188.6 117.3,193.9 124.3,199.2 131.3,204.7 138.3,210.6 145.3,216.4 152.3,221.6 159.3,226.1 166.3,230.2 173.3,234.2 180.3,238.3 187.3,242.4 194.3,246.4 201.3,250.5 208.3,254.6 215.3,258.3 222.3,261.8 229.3,265.0 236.3,268.4 243.3,272.0 250.3,275.8 257.3,279.5 264.3,283.1 271.3,286.6 278.3,289.9 285.3,292.8 292.3,295.4 299.3,297.6 306.3,299.2 313.3,300.4 320.3,301.5 327.3,302.4 334.3,303.3 341.3,304.2 348.3,305.3 355.3,306.4 362.3,307.4 369.3,308.4 376.3,309.0 383.3,309.5 390.3,309.9 397.3,310.2 404.3,310.4 411.3,310.4 418.3,310.4 425.3,310.4 432.3,310.3 439.3,310.1 446.3,309.7 453.3,308.9 460.3,307.8 467.3,306.4 474.3,304.9 481.3,303.3 488.3,301.6 495.3,299.5 502.3,297.0 509.3,294.2 516.3,291.2 523.3,287.6 530.3,283.0 537.3,277.9 544.3,272.5 551.3,266.8 558.3,261.0 565.3,255.4 572.3,250.1 579.3,245.6 586.3,241.9 593.3,238.5 600.3,235.1 607.3,231.5 614.3,227.8 621.3,224.3 628.3,221.0 635.3,217.9 642.3,215.1 649.3,212.5 656.3,210.0 663.3,207.5 670.3,204.7 677.3,201.7 684.3,198.6 691.3,195.6 698.3,192.5 705.3,189.5 712.3,186.7 719.3,184.1 726.3,181.8 733.3,179.8 740.3,178.4 747.3,177.6 754.3,177.2 761.3,177.0 768.3,176.8 775.3,176.8 782.3,176.8 789.3,176.7 796.3,176.5 803.3,176.3 810.3,175.7 817.3,174.5 824.3,172.8 831.3,170.8 838.3,168.9 845.3,167.1 852.3,165.3 859.3,163.4 866.3,161.5 873.3,159.6 880.3,157.9 887.3,156.5 894.3,155.3 901.3,154.2 908.3,153.2 915.3,152.3 922.3,151.5 929.3,150.8 936.3,150.3 943.3,150.0 950.3,150.0 957.3,150.7 964.3,152.0 971.3,153.7 978.3,155.7 985.3,157.5 992.3,159.2 999.3,160.6 1006.3,161.8 1013.3,162.9 1020.3,163.8 1027.3,164.7 1034.3,165.8 1041.3,167.1 1048.3,168.5 1055.3,169.8 1062.3,170.8 1069.3,171.8 1076.3,173.0 1083.3,174.5 1090.3,176.3 1097.3,178.2 1104.3,180.2 1111.3,182.3 1118.3,184.6 1125.3,187.3 1132.3,190.1 1139.3,192.8 1146.3,195.3 1153.3,197.6 1160.3,199.7 1167.3,201.7 1174.3,203.4 1181.3,205.0 1188.3,206.4" fill="none" stroke="#000" stroke-width="2" stroke-linejoin="round" stroke-linecap="round"/>
<polyline points="26.3,165.6 33.3,170.9 40.3,176.2 47.3,181.5 54.3,186.7 61.3,191.8 68.3,196.6 75.3,201.5 82.3,206.7 89.3,212.5 96.3,218.8 103.3,225.4 110.3,232.2 117.3,239.3 124.3,246.6 131.3,254.4 138.3,262.3 145.3,269.9 152.3,276.9 159.3,283.3 166.3,288.6 173.3,292.8 180.3,296.5 187.3,300.5 194.3,304.8 201.3,309.3 208.3,313.9 215.3,318.5 222.3,322.7 229.3,326.4 236.3,329.7 243.3,332.5 250.3,334.9 257.3,336.9 264.3,338.5 271.3,339.7 278.3,340.5 285.3,341.1 292.3,341.4 299.3,341.2 306.3,340.7 313.3,339.3 320.3,336.9 327.3,333.9 334.3,331.0 341.3,328.6 348.3,326.5 355.3,324.3 362.3,321.9 369.3,319.2 376.3,316.3 383.3,313.3 390.3,310.1 397.3,306.8 404.3,303.6 411.3,300.5 418.3,297.2 425.3,293.8 432.3,290.4 439.3,287.3 446.3,284.8 453.3,282.5 460.3,280.1 467.3,277.2 474.3,274.2 481.3,271.3 488.3,268.5 495.3,265.8 502.3,262.8 509.3,259.4 516.3,255.5 523.3,251.0 530.3,245.8 537.3,240.1 544.3,234.3 551.3,228.5 558.3,222.8 565.3,217.4 572.3,212.7 579.3,208.4 586.3,204.7 593.3,201.8 600.3,199.4 607.3,197.2 614.3,194.9 621.3,192.6 628.3,190.4 635.3,188.2 642.3,186.2 649.3,184.3 656.3,182.1 663.3,179.5 670.3,176.4 677.3,173.1 684.3,169.7 691.3,166.3 698.3,162.7 705.3,159.0 712.3,155.2 719.3,151.4 726.3,147.6 733.3,144.1 740.3,141.4 747.3,140.0 754.3,139.5 761.3,139.4 768.3,139.4 775.3,139.7 782.3,140.5 789.3,141.8 796.3,143.5 803.3,145.7 810.3,147.9 817.3,150.3 824.3,152.6 831.3,154.9 838.3,157.3 845.3,159.5 852.3,161.5 859.3,162.9 866.3,163.7 873.3,164.2 880.3,164.5 887.3,164.7 894.3,164.7 901.3,164.8 908.3,165.1 915.3,165.3 922.3,165.5 929.3,165.4 936.3,165.2 943.3,165.0 950.3,165.0 957.3,165.4 964.3,166.0 971.3,166.9 978.3,168.1 985.3,169.5 992.3,170.8 999.3,171.8 1006.3,172.7 1013.3,173.4 1020.3,174.0 1027.3,174.6 1034.3,175.0 1041.3,175.4 1048.3,175.7 1055.3,175.9 1062.3,176.1 1069.3,176.2 1076.3,176.3 1083.3,176.9 1090.3,177.9 1097.3,179.3 1104.3,181.0 1111.3,183.1 1118.3,185.5 1125.3,188.0 1132.3,190.8 1139.3,193.8 1146.3,197.1 1153.3,200.9 1160.3,204.9 1167.3,208.7 1174.3,212.4 1181.3,216.0 1188.3,219.5" fill="none" stroke="#1a7f8c" stroke-width="2" stroke-linejoin="round" stroke-linecap="round"/>
<polyline points="26.3,216.1 33.3,224.0 40.3,231.9 47.3,240.0 54.3,248.1 61.3,255.9 68.3,262.8 75.3,269.2 82.3,275.8 89.3,282.6 96.3,289.7 103.3,297.1 110.3,305.4 117.3,314.1 124.3,322.5 131.3,330.4 138.3,338.0 145.3,345.2 152.3,351.7 159.3,357.8 166.3,362.2 173.3,363.3 180.3,363.0 187.3,363.5 194.3,365.0 201.3,366.6 208.3,367.9 215.3,368.7 222.3,368.5 229.3,367.3 236.3,365.5 243.3,363.2 250.3,360.6 257.3,357.6 264.3,353.8 271.3,349.3 278.3,344.1 285.3,338.1 292.3,331.6 299.3,325.2 306.3,319.8 313.3,314.6 320.3,308.2 327.3,301.3 334.3,294.7 341.3,288.9 348.3,283.6 355.3,278.8 362.3,274.8 369.3,271.2 376.3,267.8 383.3,264.8 390.3,261.9 397.3,259.2 404.3,257.2 411.3,255.4 418.3,253.5 425.3,251.4 432.3,249.6 439.3,249.0 446.3,249.3 453.3,250.1 460.3,251.3 467.3,252.1 474.3,252.3 481.3,252.0 488.3,251.5 495.3,250.4 502.3,249.1 509.3,246.6 516.3,242.1 523.3,236.4 530.3,229.9 537.3,221.4 544.3,212.1 551.3,202.7 558.3,193.4 565.3,184.1 572.3,175.2 579.3,167.0 586.3,159.8 593.3,153.8 600.3,148.4 607.3,143.0 614.3,137.8 621.3,133.0 628.3,128.7 635.3,125.2 642.3,122.6 649.3,121.1 656.3,120.6 663.3,120.6 670.3,121.1 677.3,122.4 684.3,124.8 691.3,128.1 698.3,131.1 705.3,133.4 712.3,135.0 719.3,136.1 726.3,136.7 733.3,137.4 740.3,138.9 747.3,141.0 754.3,143.5 761.3,146.3 768.3,149.8 775.3,153.9 782.3,157.8 789.3,161.7 796.3,166.1 803.3,170.8 810.3,175.0 817.3,178.0 824.3,179.9 831.3,181.2 838.3,182.8 845.3,184.9 852.3,187.6 859.3,190.2 866.3,192.1 873.3,192.6 880.3,191.7 887.3,190.1 894.3,187.8 901.3,184.7 908.3,181.1 915.3,177.2 922.3,173.1 929.3,168.8 936.3,164.1 943.3,159.1 950.3,154.9 957.3,152.6 964.3,152.3 971.3,152.9 978.3,153.6 985.3,154.0 992.3,154.4 999.3,155.2 1006.3,156.6 1013.3,158.8 1020.3,160.9 1027.3,162.2 1034.3,163.9 1041.3,166.8 1048.3,170.3 1055.3,173.9 1062.3,178.0 1069.3,182.9 1076.3,188.4 1083.3,194.3 1090.3,200.1 1097.3,205.4 1104.3,209.8 1111.3,213.1 1118.3,216.0 1125.3,219.4 1132.3,223.7 1139.3,229.3 1146.3,235.8 1153.3,242.6 1160.3,249.3 1167.3,255.5 1174.3,260.9 1181.3,264.7 1188.3,266.9" fill="none" stroke="#109cff" stroke-width="2" stroke-linejoin="round" stroke-linecap="round"/>
<polyline points="26.3,265.7 29.8,269.7 33.3,274.2 36.8,279.2 40.3,284.7 43.8,290.3 47.3,295.3 50.8,299.3 54.3,302.6 57.8,305.6 61.3,307.8 64.8,308.9 68.3,309.3 71.8,309.4 75.3,309.9 78.8,311.0 82.3,312.6 85.8,314.3 89.3,316.1 92.8,318.1 96.3,320.1 99.8,322.1 103.3,324.2 106.8,326.3 110.3,328.7 113.8,331.4 117.3,334.5 120.8,337.7 124.3,340.9 127.8,344.4 131.3,349.3 134.8,356.1 138.3,364.3 141.8,372.8 145.3,380.6 148.8,387.0 152.3,392.6 155.8,397.7 159.3,402.1 162.8,405.2 166.3,406.9 169.8,407.1 173.3,405.7 176.8,402.9 180.3,399.2 183.8,395.4 187.3,392.2 190.8,389.9 194.3,388.3 197.8,386.4 201.3,382.7 204.8,376.4 208.3,368.3 211.8,359.9 215.3,352.2 218.8,345.6 222.3,339.8 225.8,334.4 229.3,329.9 232.8,326.7 236.3,324.4 239.8,322.5 243.3,321.1 246.8,320.3 250.3,320.0 253.8,319.8 257.3,319.1 260.8,317.8 264.3,316.2 267.8,314.7 271.3,313.9 274.8,314.1 278.3,315.0 281.8,315.9 285.3,316.6 288.8,316.9 292.3,317.0 295.8,316.8 299.3,316.0 302.8,314.5 306.3,312.4 309.8,310.1 313.3,306.9 316.8,302.5 320.3,297.1 323.8,291.3 327.3,285.5 330.8,279.6 334.3,273.8 337.8,268.1 341.3,262.4 344.8,256.7 348.3,251.1 351.8,245.6 355.3,240.8 358.8,237.2 362.3,234.4 365.8,232.0 369.3,229.6 372.8,227.3 376.3,225.1 379.8,223.1 383.3,222.0 386.8,222.5 390.3,224.5 393.8,227.6 397.3,231.4 400.8,235.3 404.3,239.3 407.8,243.2 411.3,247.1 414.8,251.0 418.3,254.5 421.8,257.6 425.3,260.4 428.8,263.0 432.3,265.6 435.8,268.3 439.3,270.9 442.8,273.5 446.3,275.7 449.8,277.6 453.3,279.1 456.8,279.8 460.3,279.7 463.8,278.8 467.3,276.9 470.8,274.0 474.3,270.3 477.8,266.3 481.3,261.9 484.8,257.1 488.3,251.9 491.8,246.7 495.3,241.7 498.8,237.1 502.3,232.7 505.8,228.1 509.3,222.9 512.8,216.7 516.3,209.8 519.8,202.8 523.3,195.8 526.8,188.8 530.3,181.9 533.8,174.9 537.3,168.2 540.8,161.8 544.3,155.6 547.8,149.6 551.3,144.1 554.8,139.2 558.3,134.8 561.8,130.4 565.3,126.0 568.8,121.6 572.3,117.2 575.8,113.0 579.3,109.4 582.8,106.9 586.3,105.6 589.8,105.7 593.3,106.8 596.8,108.2 600.3,109.7 603.8,111.1 607.3,112.3 610.8,113.5 614.3,114.7 617.8,116.0 621.3,117.5 624.8,119.3 628.3,120.9 631.8,122.4 635.3,123.4 638.8,124.2 642.3,125.1 645.8,126.7 649.3,129.5 652.8,132.7 656.3,134.9 659.8,135.2 663.3,134.3 666.8,133.2 670.3,132.0 673.8,131.0 677.3,130.4 680.8,130.5 684.3,131.1 687.8,132.4 691.3,134.6 694.8,137.4 698.3,140.0 701.8,142.0 705.3,143.0 708.8,143.3 712.3,143.4 715.8,143.4 719.3,143.0 722.8,142.0 726.3,140.8 729.8,140.0 733.3,139.9 736.8,140.6 740.3,141.8 743.8,143.7 747.3,146.0 750.8,148.5 754.3,151.0 757.8,153.4 761.3,155.9 764.8,158.3 768.3,160.6 771.8,162.7 775.3,165.0 778.8,168.2 782.3,172.6 785.8,177.6 789.3,182.8 792.8,188.1 796.3,193.1 799.8,197.6 803.3,201.4 806.8,204.5 810.3,206.6 813.8,207.8 817.3,208.2 820.8,208.4 824.3,207.9 827.8,206.8 831.3,205.3 834.8,204.1 838.3,203.4 841.8,203.0 845.3,202.6 848.8,202.0 852.3,200.8 855.8,198.8 859.3,196.2 862.8,193.3 866.3,190.0 869.8,186.5 873.3,182.7 876.8,178.9 880.3,175.4 883.8,172.4 887.3,169.7 890.8,167.1 894.3,164.7 897.8,162.3 901.3,160.1 904.8,157.9 908.3,155.7 911.8,153.3 915.3,151.0 918.8,148.6 922.3,146.4 925.8,144.3 929.3,142.2 932.8,140.3 936.3,138.3 939.8,136.5 943.3,134.9 946.8,133.8 950.3,133.1 953.8,133.0 957.3,133.6 960.8,135.0 964.3,137.1 967.8,139.9 971.3,143.4 974.8,147.3 978.3,151.1 981.8,154.8 985.3,158.3 988.8,161.8 992.3,165.2 995.8,168.3 999.3,171.4 1002.8,174.4 1006.3,177.1 1009.8,179.5 1013.3,181.7 1016.8,183.8 1020.3,185.6 1023.8,187.1 1027.3,188.5 1030.8,189.7 1034.3,190.6 1037.8,191.3 1041.3,191.8 1044.8,192.2 1048.3,192.6 1051.8,192.9 1055.3,193.2 1058.8,193.6 1062.3,194.4 1065.8,195.5 1069.3,197.0 1072.8,198.6 1076.3,200.4 1079.8,202.4 1083.3,204.5 1086.8,206.9 1090.3,209.8 1093.8,213.4 1097.3,217.2 1100.8,221.2 1104.3,225.4 1107.8,229.6 1111.3,233.9 1114.8,238.3 1118.3,242.7 1121.8,247.1 1125.3,251.5 1128.8,255.7 1132.3,259.7 1135.8,263.4 1139.3,266.9 1142.8,270.4 1146.3,273.7 1149.8,276.9 1153.3,280.0 1156.8,283.0 1160.3,285.9 1163.8,288.6 1167.3,291.1 1170.8,293.1 1174.3,294.6 1177.8,295.7 1181.3,296.5 1184.8,296.9 1188.3,297.3" fill="none" stroke="#ff2626" stroke-width="2" stroke-linejoin="round" stroke-linecap="round"/>
</g>
<text x="1192" y="193.5" font-size="20" fill="#404040" textLength="36" lengthAdjust="spacingAndGlyphs">120</text>
<text x="1192" y="212.7" font-size="20" fill="#404040" textLength="24" lengthAdjust="spacingAndGlyphs">60</text>
<text x="1192" y="230.5" font-size="20" fill="#404040" textLength="24" lengthAdjust="spacingAndGlyphs">40</text>
<text x="1192" y="271.8" font-size="20" fill="#1e9bff" textLength="24" lengthAdjust="spacingAndGlyphs">20</text>
<g shape-rendering="geometricPrecision"><line x1="560" y1="44.5" x2="571" y2="44.5" stroke="#000" stroke-width="1"/><polygon points="559,44.5 563,42.5 563,46.5" fill="#000"/>
<line x1="147" y1="485.5" x2="158" y2="485.5" stroke="#000" stroke-width="1"/><polygon points="145.5,485.5 150,483.2 150,487.8" fill="#000"/></g>
<text x="572.2" y="49" font-size="12" fill="#000" textLength="45" lengthAdjust="spacingAndGlyphs">4268.15</text>
<text x="159.2" y="489.5" font-size="12" fill="#000" textLength="45" lengthAdjust="spacingAndGlyphs">3495.95</text>
<text x="22" y="525" font-size="12" fill="#1c8a1c" textLength="92" lengthAdjust="spacingAndGlyphs">成交金额: 3408亿</text>
<g shape-rendering="geometricPrecision"><rect x="117.3" y="517.8" width="1.2" height="10.0" fill="#ff9a80"/><path d="M115.6 519.9 L117.9 517.2 L120.2 519.9" fill="none" stroke="#ff3a3a" stroke-width="1.2"/></g>
<text x="126" y="525" font-size="12" fill="#00d800" textLength="74" lengthAdjust="spacingAndGlyphs">MA10: 3122亿</text>
<g shape-rendering="geometricPrecision"><rect x="203.3" y="517.8" width="1.2" height="10.0" fill="#ff9a80"/><path d="M201.6 519.9 L203.9 517.2 L206.2 519.9" fill="none" stroke="#ff3a3a" stroke-width="1.2"/></g>
<text x="212.7" y="525" font-size="12" fill="#00d8f0" textLength="74" lengthAdjust="spacingAndGlyphs">MA20: 2922亿</text>
<g shape-rendering="geometricPrecision"><rect x="289.8" y="517.8" width="1.2" height="10.0" fill="#ff9a80"/><path d="M288.1 519.9 L290.4 517.2 L292.7 519.9" fill="none" stroke="#ff3a3a" stroke-width="1.2"/></g>
<text x="298.8" y="525" font-size="12" fill="#1e8cff" textLength="74" lengthAdjust="spacingAndGlyphs">MA40: 2603亿</text>
<g shape-rendering="geometricPrecision"><rect x="375.8" y="517.8" width="1.2" height="10.0" fill="#ff9a80"/><path d="M374.1 519.9 L376.4 517.2 L378.7 519.9" fill="none" stroke="#ff3a3a" stroke-width="1.2"/></g>
<text x="384" y="525" font-size="12" fill="#ff8020" textLength="74" lengthAdjust="spacingAndGlyphs">MA60: 2482亿</text>
<g shape-rendering="geometricPrecision"><rect x="462.2" y="517.8" width="1.2" height="10.0" fill="#ff9a80"/><path d="M460.5 519.9 L462.8 517.2 L465.1 519.9" fill="none" stroke="#ff3a3a" stroke-width="1.2"/></g>
<text x="469" y="525" font-size="12" fill="#000" textLength="81" lengthAdjust="spacingAndGlyphs">MA120: 2335亿</text>
<g shape-rendering="geometricPrecision"><rect x="555.4" y="517.8" width="1.2" height="10.0" fill="#ff9a80"/><path d="M553.7 519.9 L556.0 517.2 L558.3 519.9" fill="none" stroke="#ff3a3a" stroke-width="1.2"/></g>
<g id="vol">
<rect x="24" y="580.2" width="5" height="38.4" fill="#1c8a1c"/>
<rect x="31" y="583.2" width="5" height="35.4" fill="#1c8a1c"/>
<rect x="38" y="576.0" width="5" height="42.6" fill="#1c8a1c"/>
<rect x="45" y="581.0" width="5" height="37.6" fill="#1c8a1c"/>
<rect x="52.5" y="570.5" width="4" height="47.6" fill="#fff" stroke="#c4222c" stroke-width="1"/>
<rect x="59" y="574.2" width="5" height="44.4" fill="#1c8a1c"/>
<rect x="66.5" y="563.7" width="4" height="54.4" fill="#fff" stroke="#c4222c" stroke-width="1"/>
<rect x="73.5" y="571.7" width="4" height="46.4" fill="#fff" stroke="#c4222c" stroke-width="1"/>
<rect x="80" y="577.2" width="5" height="41.4" fill="#1c8a1c"/>
<rect x="87" y="577.2" width="5" height="41.4" fill="#1c8a1c"/>
<rect x="94.5" y="573.5" width="4" height="44.6" fill="#fff" stroke="#c4222c" stroke-width="1"/>
<rect x="101" y="578.2" width="5" height="40.4" fill="#1c8a1c"/>
<rect x="108" y="560.2" width="5" height="58.4" fill="#1c8a1c"/>
<rect x="115.5" y="571.7" width="4" height="46.4" fill="#fff" stroke="#c4222c" stroke-width="1"/>
<rect x="122.5" y="564.9" width="4" height="53.2" fill="#fff" stroke="#c4222c" stroke-width="1"/>
<rect x="129" y="561.0" width="5" height="57.6" fill="#1c8a1c"/>
<rect x="136" y="563.4" width="5" height="55.2" fill="#1c8a1c"/>
<rect x="143.5" y="561.8" width="4" height="56.3" fill="#fff" stroke="#c4222c" stroke-width="1"/>
<rect x="150.5" y="553.1" width="4" height="65.0" fill="#fff" stroke="#c4222c" stroke-width="1"/>
<rect x="157.5" y="554.0" width="4" height="64.1" fill="#fff" stroke="#c4222c" stroke-width="1"/>
<rect x="164.5" y="571.5" width="4" height="46.6" fill="#fff" stroke="#c4222c" stroke-width="1"/>
<rect x="171.5" y="549.9" width="4" height="68.2" fill="#fff" stroke="#c4222c" stroke-width="1"/>
<rect x="178.5" y="563.9" width="4" height="54.2" fill="#fff" stroke="#c4222c" stroke-width="1"/>
<rect x="185" y="575.2" width="5" height="43.4" fill="#1c8a1c"/>
<rect x="192" y="580.2" width="5" height="38.4" fill="#1c8a1c"/>
<rect x="199" y="577.2" width="5" height="41.4" fill="#1c8a1c"/>
<rect x="206.5" y="542.9" width="4" height="75.2" fill="#fff" stroke="#c4222c" stroke-width="1"/>
<rect x="213" y="548.0" width="5" height="70.6" fill="#1c8a1c"/>
<rect x="220.5" y="552.9" width="4" height="65.2" fill="#fff" stroke="#c4222c" stroke-width="1"/>
<rect x="227" y="566.2" width="5" height="52.4" fill="#1c8a1c"/>
<rect x="234" y="569.4" width="5" height="49.2" fill="#1c8a1c"/>
<rect x="241" y="569.4" width="5" height="49.2" fill="#1c8a1c"/>
<rect x="248" y="576.0" width="5" height="42.6" fill="#1c8a1c"/>
<rect x="255.5" y="573.8" width="4" height="44.3" fill="#fff" stroke="#c4222c" stroke-width="1"/>
<rect x="262.5" y="573.8" width="4" height="44.3" fill="#fff" stroke="#c4222c" stroke-width="1"/>
<rect x="269" y="582.3" width="5" height="36.3" fill="#1c8a1c"/>
<rect x="276.5" y="575.9" width="4" height="42.2" fill="#fff" stroke="#c4222c" stroke-width="1"/>
<rect x="283.5" y="574.7" width="4" height="43.4" fill="#fff" stroke="#c4222c" stroke-width="1"/>
<rect x="290.5" y="554.7" width="4" height="63.4" fill="#fff" stroke="#c4222c" stroke-width="1"/>
<rect x="297.5" y="565.1" width="4" height="53.0" fill="#fff" stroke="#c4222c" stroke-width="1"/>
<rect x="304" y="550.2" width="5" height="68.4" fill="#1c8a1c"/>
<rect x="311" y="573.0" width="5" height="45.6" fill="#1c8a1c"/>
<rect x="318.5" y="552.9" width="4" height="65.2" fill="#fff" stroke="#c4222c" stroke-width="1"/>
<rect x="325.5" y="557.7" width="4" height="60.4" fill="#fff" stroke="#c4222c" stroke-width="1"/>
<rect x="332.5" y="561.5" width="4" height="56.6" fill="#fff" stroke="#c4222c" stroke-width="1"/>
<rect x="339.5" y="574.7" width="4" height="43.4" fill="#fff" stroke="#c4222c" stroke-width="1"/>
<rect x="346.5" y="558.8" width="4" height="59.3" fill="#fff" stroke="#c4222c" stroke-width="1"/>
<rect x="353" y="568.2" width="5" height="50.4" fill="#1c8a1c"/>
<rect x="360" y="577.2" width="5" height="41.4" fill="#1c8a1c"/>
<rect x="367.5" y="574.7" width="4" height="43.4" fill="#fff" stroke="#c4222c" stroke-width="1"/>
<rect x="374" y="578.2" width="5" height="40.4" fill="#1c8a1c"/>
<rect x="381.5" y="581.5" width="4" height="36.6" fill="#fff" stroke="#c4222c" stroke-width="1"/>
<rect x="388" y="578.2" width="5" height="40.4" fill="#1c8a1c"/>
<rect x="395" y="582.3" width="5" height="36.3" fill="#1c8a1c"/>
<rect x="402" y="591.0" width="5" height="27.6" fill="#1c8a1c"/>
<rect x="409" y="582.3" width="5" height="36.3" fill="#1c8a1c"/>
<rect x="416.5" y="589.7" width="4" height="28.4" fill="#fff" stroke="#c4222c" stroke-width="1"/>
<rect x="423.5" y="585.8" width="4" height="32.3" fill="#fff" stroke="#c4222c" stroke-width="1"/>
<rect x="430.5" y="584.7" width="4" height="33.4" fill="#fff" stroke="#c4222c" stroke-width="1"/>
<rect x="437" y="583.5" width="5" height="35.1" fill="#1c8a1c"/>
<rect x="444.5" y="585.8" width="4" height="32.3" fill="#fff" stroke="#c4222c" stroke-width="1"/>
<rect x="451" y="583.8" width="5" height="34.8" fill="#1c8a1c"/>
<rect x="458.5" y="572.9" width="4" height="45.2" fill="#fff" stroke="#c4222c" stroke-width="1"/>
<rect x="465.5" y="574.7" width="4" height="43.4" fill="#fff" stroke="#c4222c" stroke-width="1"/>
<rect x="472.5" y="561.8" width="4" height="56.3" fill="#fff" stroke="#c4222c" stroke-width="1"/>
<rect x="479.5" y="566.9" width="4" height="51.2" fill="#fff" stroke="#c4222c" stroke-width="1"/>
<rect x="486.5" y="566.9" width="4" height="51.2" fill="#fff" stroke="#c4222c" stroke-width="1"/>
<rect x="493.5" y="571.7" width="4" height="46.4" fill="#fff" stroke="#c4222c" stroke-width="1"/>
<rect x="500" y="573.0" width="5" height="45.6" fill="#1c8a1c"/>
<rect x="507" y="578.4" width="5" height="40.2" fill="#1c8a1c"/>
<rect x="514.5" y="571.7" width="4" height="46.4" fill="#fff" stroke="#c4222c" stroke-width="1"/>
<rect x="521.5" y="547.7" width="4" height="70.4" fill="#fff" stroke="#c4222c" stroke-width="1"/>
<rect x="528" y="571.2" width="5" height="47.4" fill="#1c8a1c"/>
<rect x="535" y="580.2" width="5" height="38.4" fill="#1c8a1c"/>
<rect x="542.5" y="575.9" width="4" height="42.2" fill="#fff" stroke="#c4222c" stroke-width="1"/>
<rect x="549.5" y="573.5" width="4" height="44.6" fill="#fff" stroke="#c4222c" stroke-width="1"/>
<rect x="556" y="545.2" width="5" height="73.4" fill="#1c8a1c"/>
<rect x="563" y="563.2" width="5" height="55.4" fill="#1c8a1c"/>
<rect x="570.5" y="560.0" width="4" height="58.1" fill="#fff" stroke="#c4222c" stroke-width="1"/>
<rect x="577" y="560.2" width="5" height="58.4" fill="#1c8a1c"/>
<rect x="584" y="571.2" width="5" height="47.4" fill="#1c8a1c"/>
<rect x="591" y="571.2" width="5" height="47.4" fill="#1c8a1c"/>
<rect x="598" y="577.2" width="5" height="41.4" fill="#1c8a1c"/>
<rect x="605" y="580.2" width="5" height="38.4" fill="#1c8a1c"/>
<rect x="612.5" y="571.7" width="4" height="46.4" fill="#fff" stroke="#c4222c" stroke-width="1"/>
<rect x="619" y="575.4" width="5" height="43.2" fill="#1c8a1c"/>
<rect x="626.5" y="563.1" width="4" height="55.0" fill="#fff" stroke="#c4222c" stroke-width="1"/>
<rect x="633" y="573.0" width="5" height="45.6" fill="#1c8a1c"/>
<rect x="640" y="573.0" width="5" height="45.6" fill="#1c8a1c"/>
<rect x="647" y="556.2" width="5" height="62.4" fill="#1c8a1c"/>
<rect x="654" y="571.2" width="5" height="47.4" fill="#1c8a1c"/>
<rect x="661.5" y="557.0" width="4" height="61.1" fill="#fff" stroke="#c4222c" stroke-width="1"/>
<rect x="668.5" y="563.9" width="4" height="54.2" fill="#fff" stroke="#c4222c" stroke-width="1"/>
<rect x="675" y="575.2" width="5" height="43.4" fill="#1c8a1c"/>
<rect x="682" y="574.2" width="5" height="44.4" fill="#1c8a1c"/>
<rect x="689" y="576.4" width="5" height="42.2" fill="#1c8a1c"/>
<rect x="696.5" y="576.9" width="4" height="41.2" fill="#fff" stroke="#c4222c" stroke-width="1"/>
<rect x="703.5" y="575.0" width="4" height="43.1" fill="#fff" stroke="#c4222c" stroke-width="1"/>
<rect x="710.5" y="561.9" width="4" height="56.2" fill="#fff" stroke="#c4222c" stroke-width="1"/>
<rect x="717" y="566.2" width="5" height="52.4" fill="#1c8a1c"/>
<rect x="724.5" y="571.7" width="4" height="46.4" fill="#fff" stroke="#c4222c" stroke-width="1"/>
<rect x="731" y="555.3" width="5" height="63.3" fill="#1c8a1c"/>
<rect x="738" y="558.3" width="5" height="60.3" fill="#1c8a1c"/>
<rect x="745.5" y="575.9" width="4" height="42.2" fill="#fff" stroke="#c4222c" stroke-width="1"/>
<rect x="752" y="573.3" width="5" height="45.3" fill="#1c8a1c"/>
<rect x="759" y="571.2" width="5" height="47.4" fill="#1c8a1c"/>
<rect x="766.5" y="564.9" width="4" height="53.2" fill="#fff" stroke="#c4222c" stroke-width="1"/>
<rect x="773" y="559.2" width="5" height="59.4" fill="#1c8a1c"/>
<rect x="780" y="571.2" width="5" height="47.4" fill="#1c8a1c"/>
<rect x="787" y="563.2" width="5" height="55.4" fill="#1c8a1c"/>
<rect x="794" y="550.2" width="5" height="68.4" fill="#1c8a1c"/>
<rect x="801" y="547.2" width="5" height="71.4" fill="#1c8a1c"/>
<rect x="808.5" y="565.1" width="4" height="53.0" fill="#fff" stroke="#c4222c" stroke-width="1"/>
<rect x="815.5" y="560.0" width="4" height="58.1" fill="#fff" stroke="#c4222c" stroke-width="1"/>
<rect x="822.5" y="552.9" width="4" height="65.2" fill="#fff" stroke="#c4222c" stroke-width="1"/>
<rect x="829" y="552.3" width="5" height="66.3" fill="#1c8a1c"/>
<rect x="836" y="548.2" width="5" height="70.4" fill="#1c8a1c"/>
<rect x="843" y="563.4" width="5" height="55.2" fill="#1c8a1c"/>
<rect x="850" y="559.2" width="5" height="59.4" fill="#1c8a1c"/>
<rect x="857.5" y="557.0" width="4" height="61.1" fill="#fff" stroke="#c4222c" stroke-width="1"/>
<rect x="864.5" y="557.0" width="4" height="61.1" fill="#fff" stroke="#c4222c" stroke-width="1"/>
<rect x="871.5" y="533.7" width="4" height="84.4" fill="#fff" stroke="#c4222c" stroke-width="1"/>
<rect x="878.5" y="531.9" width="4" height="86.2" fill="#fff" stroke="#c4222c" stroke-width="1"/>
<rect x="885.5" y="545.9" width="4" height="72.2" fill="#fff" stroke="#c4222c" stroke-width="1"/>
<rect x="892.5" y="553.1" width="4" height="65.0" fill="#fff" stroke="#c4222c" stroke-width="1"/>
<rect x="899" y="542.2" width="5" height="76.4" fill="#1c8a1c"/>
<rect x="906" y="546.2" width="5" height="72.4" fill="#1c8a1c"/>
<rect x="913" y="546.2" width="5" height="72.4" fill="#1c8a1c"/>
<rect x="920" y="550.2" width="5" height="68.4" fill="#1c8a1c"/>
<rect x="927.5" y="550.7" width="4" height="67.4" fill="#fff" stroke="#c4222c" stroke-width="1"/>
<rect x="934.5" y="542.9" width="4" height="75.2" fill="#fff" stroke="#c4222c" stroke-width="1"/>
<rect x="941.5" y="544.7" width="4" height="73.4" fill="#fff" stroke="#c4222c" stroke-width="1"/>
<rect x="948" y="547.2" width="5" height="71.4" fill="#1c8a1c"/>
<rect x="955" y="544.2" width="5" height="74.4" fill="#1c8a1c"/>
<rect x="962" y="541.2" width="5" height="77.4" fill="#1c8a1c"/>
<rect x="969" y="547.2" width="5" height="71.4" fill="#1c8a1c"/>
<rect x="976" y="544.2" width="5" height="74.4" fill="#1c8a1c"/>
<rect x="983.5" y="547.7" width="4" height="70.4" fill="#fff" stroke="#c4222c" stroke-width="1"/>
<rect x="990.5" y="550.7" width="4" height="67.4" fill="#fff" stroke="#c4222c" stroke-width="1"/>
<rect x="997.5" y="547.1" width="4" height="71.0" fill="#fff" stroke="#c4222c" stroke-width="1"/>
<rect x="1004.5" y="541.9" width="4" height="76.2" fill="#fff" stroke="#c4222c" stroke-width="1"/>
<rect x="1011" y="550.2" width="5" height="68.4" fill="#1c8a1c"/>
<rect x="1018.5" y="538.9" width="4" height="79.2" fill="#fff" stroke="#c4222c" stroke-width="1"/>
<rect x="1025" y="531.0" width="5" height="87.6" fill="#1c8a1c"/>
<rect x="1032" y="549.0" width="5" height="69.6" fill="#1c8a1c"/>
<rect x="1039" y="562.2" width="5" height="56.4" fill="#1c8a1c"/>
<rect x="1046" y="567.3" width="5" height="51.3" fill="#1c8a1c"/>
<rect x="1053.5" y="557.0" width="4" height="61.1" fill="#fff" stroke="#c4222c" stroke-width="1"/>
<rect x="1060" y="566.2" width="5" height="52.4" fill="#1c8a1c"/>
<rect x="1067" y="572.2" width="5" height="46.4" fill="#1c8a1c"/>
<rect x="1074" y="567.3" width="5" height="51.3" fill="#1c8a1c"/>
<rect x="1081" y="572.2" width="5" height="46.4" fill="#1c8a1c"/>
<rect x="1088.5" y="573.8" width="4" height="44.3" fill="#fff" stroke="#c4222c" stroke-width="1"/>
<rect x="1095" y="576.3" width="5" height="42.3" fill="#1c8a1c"/>
<rect x="1102" y="571.2" width="5" height="47.4" fill="#1c8a1c"/>
<rect x="1109" y="571.2" width="5" height="47.4" fill="#1c8a1c"/>
<rect x="1116.5" y="575.9" width="4" height="42.2" fill="#fff" stroke="#c4222c" stroke-width="1"/>
<rect x="1123" y="567.3" width="5" height="51.3" fill="#1c8a1c"/>
<rect x="1130.5" y="564.9" width="4" height="53.2" fill="#fff" stroke="#c4222c" stroke-width="1"/>
<rect x="1137" y="566.2" width="5" height="52.4" fill="#1c8a1c"/>
<rect x="1144.5" y="564.9" width="4" height="53.2" fill="#fff" stroke="#c4222c" stroke-width="1"/>
<rect x="1151.5" y="566.9" width="4" height="51.2" fill="#fff" stroke="#c4222c" stroke-width="1"/>
<rect x="1158" y="571.2" width="5" height="47.4" fill="#1c8a1c"/>
<rect x="1165" y="569.4" width="5" height="49.2" fill="#1c8a1c"/>
<rect x="1172" y="576.3" width="5" height="42.3" fill="#1c8a1c"/>
<rect x="1179.5" y="575.0" width="4" height="43.1" fill="#fff" stroke="#c4222c" stroke-width="1"/>
<rect x="1186.5" y="563.9" width="4" height="54.2" fill="#fff" stroke="#c4222c" stroke-width="1"/>
</g>
<g id="vma" shape-rendering="geometricPrecision">
<polyline points="26.5,577.8 33.5,577.9 40.5,578.2 47.5,578.6 54.5,578.5 61.5,578.0 68.5,577.3 75.5,576.1 82.5,575.1 89.5,574.8 96.5,574.3 103.5,573.5 110.5,573.0 117.5,572.5 124.5,571.7 131.5,571.2 138.5,570.2 145.5,568.0 152.5,566.4 159.5,565.0 166.5,563.9 173.5,562.7 180.5,561.1 187.5,561.1 194.5,562.6 201.5,562.9 208.5,561.6 215.5,560.6 222.5,560.8 229.5,561.9 236.5,563.1 243.5,563.8 250.5,564.0 257.5,564.2 264.5,565.0 271.5,566.0 278.5,567.4 285.5,569.5 292.5,570.6 299.5,570.5 306.5,569.9 313.5,568.6 320.5,566.9 327.5,565.2 334.5,563.5 341.5,562.0 348.5,561.2 355.5,561.0 362.5,561.3 369.5,561.9 376.5,563.1 383.5,566.1 390.5,570.0 397.5,573.3 404.5,575.7 411.5,577.5 418.5,579.4 425.5,580.9 432.5,581.7 439.5,582.5 446.5,583.3 453.5,583.8 460.5,583.8 467.5,583.2 474.5,581.4 481.5,579.0 488.5,577.2 495.5,576.0 502.5,574.8 509.5,573.5 516.5,571.3 523.5,568.9 530.5,567.8 537.5,568.5 544.5,570.3 551.5,570.3 558.5,568.4 565.5,566.8 572.5,565.2 579.5,563.9 586.5,563.9 593.5,564.4 600.5,564.6 607.5,564.9 614.5,565.5 621.5,566.2 628.5,567.1 635.5,567.6 642.5,567.6 649.5,567.6 656.5,567.6 663.5,567.6 670.5,567.6 677.5,567.7 684.5,568.2 691.5,569.0 698.5,569.7 705.5,570.0 712.5,570.0 719.5,570.0 726.5,570.0 733.5,570.0 740.5,570.0 747.5,570.0 754.5,569.9 761.5,569.0 768.5,567.4 775.5,566.1 782.5,565.0 789.5,564.4 796.5,563.9 803.5,563.5 810.5,562.6 817.5,561.1 824.5,559.9 831.5,558.5 838.5,556.8 845.5,556.2 852.5,556.2 859.5,555.8 866.5,554.5 873.5,553.2 880.5,551.7 887.5,550.2 894.5,549.2 901.5,548.1 908.5,547.3 915.5,546.8 922.5,545.8 929.5,544.7 936.5,544.2 943.5,544.7 950.5,546.0 957.5,546.7 964.5,546.3 971.5,546.0 978.5,546.0 985.5,546.0 992.5,546.0 999.5,546.0 1006.5,546.0 1013.5,545.9 1020.5,545.1 1027.5,544.0 1034.5,544.4 1041.5,546.4 1048.5,548.0 1055.5,549.4 1062.5,551.5 1069.5,553.5 1076.5,555.3 1083.5,557.4 1090.5,560.9 1097.5,565.0 1104.5,567.9 1111.5,569.2 1118.5,570.1 1125.5,570.6 1132.5,570.6 1139.5,570.6 1146.5,570.3 1153.5,569.5 1160.5,568.9 1167.5,568.8" fill="none" stroke="#00d800" stroke-width="1.8" stroke-linejoin="round" stroke-linecap="round"/>
<polyline points="26.5,574.8 33.5,574.8 40.5,574.8 47.5,574.9 54.5,575.1 61.5,575.2 68.5,575.2 75.5,575.2 82.5,575.2 89.5,575.5 96.5,575.7 103.5,575.8 110.5,575.4 117.5,574.7 124.5,573.6 131.5,572.6 138.5,571.6 145.5,570.6 152.5,569.5 159.5,568.8 166.5,568.2 173.5,567.5 180.5,566.9 187.5,566.6 194.5,566.4 201.5,566.3 208.5,565.7 215.5,564.8 222.5,563.9 229.5,563.5 236.5,563.4 243.5,563.4 250.5,563.5 257.5,563.8 264.5,564.2 271.5,564.6 278.5,564.8 285.5,565.3 292.5,566.0 299.5,566.3 306.5,566.4 313.5,566.4 320.5,566.4 327.5,566.2 334.5,566.0 341.5,565.9 348.5,566.0 355.5,566.0 362.5,566.1 369.5,566.1 376.5,566.2 383.5,566.3 390.5,566.3 397.5,566.4 404.5,566.8 411.5,567.7 418.5,569.1 425.5,570.6 432.5,572.0 439.5,573.6 446.5,575.0 453.5,576.1 460.5,576.9 467.5,577.4 474.5,577.7 481.5,577.8 488.5,577.8 495.5,577.8 502.5,577.8 509.5,577.7 516.5,577.4 523.5,577.0 530.5,576.7 537.5,576.5 544.5,575.9 551.5,574.8 558.5,573.5 565.5,572.7 572.5,572.1 579.5,570.9 586.5,569.1 593.5,567.9 600.5,567.6 607.5,567.4 614.5,567.2 621.5,567.0 628.5,567.0 635.5,567.0 642.5,567.0 649.5,566.8 656.5,566.6 663.5,566.4 670.5,566.4 677.5,566.5 684.5,566.7 691.5,567.1 698.5,567.4 705.5,567.6 712.5,567.7 719.5,568.0 726.5,568.4 733.5,568.7 740.5,568.8 747.5,568.7 754.5,568.3 761.5,567.7 768.5,567.2 775.5,567.0 782.5,566.9 789.5,566.6 796.5,566.2 803.5,565.8 810.5,565.3 817.5,564.6 824.5,563.7 831.5,562.7 838.5,561.8 845.5,561.0 852.5,560.4 859.5,559.6 866.5,558.6 873.5,557.4 880.5,556.2 887.5,555.1 894.5,554.2 901.5,553.4 908.5,552.6 915.5,552.0 922.5,551.4 929.5,550.8 936.5,550.2 943.5,549.8 950.5,549.4 957.5,549.0 964.5,548.4 971.5,547.7 978.5,547.2 985.5,546.7 992.5,546.2 999.5,545.8 1006.5,545.5 1013.5,545.6 1020.5,545.6 1027.5,545.4 1034.5,545.5 1041.5,546.0 1048.5,546.6 1055.5,547.2 1062.5,547.9 1069.5,548.7 1076.5,549.7 1083.5,550.8 1090.5,552.0 1097.5,553.3 1104.5,554.9 1111.5,556.8 1118.5,558.5 1125.5,559.7 1132.5,560.6 1139.5,561.6 1146.5,562.7 1153.5,563.5 1160.5,564.6 1167.5,566.1 1174.5,567.8 1181.5,568.6 1188.5,568.8" fill="none" stroke="#00d8f0" stroke-width="2" stroke-linejoin="round" stroke-linecap="round"/>
<polyline points="26.5,570.0 33.5,570.2 40.5,570.5 47.5,570.9 54.5,571.1 61.5,571.2 68.5,571.2 75.5,571.2 82.5,571.2 89.5,571.2 96.5,571.2 103.5,571.2 110.5,571.2 117.5,571.2 124.5,571.2 131.5,571.2 138.5,571.2 145.5,571.2 152.5,571.2 159.5,571.2 166.5,571.2 173.5,571.2 180.5,571.2 187.5,571.2 194.5,571.2 201.5,571.2 208.5,571.1 215.5,570.8 222.5,570.2 229.5,569.6 236.5,569.2 243.5,568.8 250.5,568.4 257.5,568.0 264.5,567.8 271.5,567.6 278.5,567.6 285.5,567.6 292.5,567.6 299.5,567.4 306.5,567.2 313.5,567.0 320.5,567.0 327.5,567.0 334.5,567.0 341.5,567.0 348.5,567.0 355.5,567.0 362.5,567.0 369.5,567.0 376.5,567.0 383.5,567.0 390.5,567.0 397.5,567.0 404.5,567.1 411.5,567.8 418.5,568.8 425.5,569.7 432.5,570.0 439.5,570.1 446.5,570.6 453.5,571.2 460.5,571.7 467.5,571.8 474.5,571.9 481.5,572.1 488.5,572.5 495.5,572.8 502.5,573.0 509.5,573.0 516.5,573.0 523.5,572.8 530.5,572.3 537.5,571.7 544.5,571.3 551.5,571.2 558.5,571.2 565.5,571.3 572.5,571.5 579.5,571.8 586.5,572.2 593.5,572.6 600.5,572.9 607.5,573.0 614.5,573.0 621.5,573.0 628.5,573.0 635.5,573.0 642.5,572.9 649.5,572.6 656.5,572.2 663.5,571.8 670.5,571.5 677.5,571.1 684.5,570.5 691.5,569.9 698.5,569.4 705.5,568.9 712.5,568.5 719.5,568.3 726.5,568.2 733.5,568.2 740.5,568.2 747.5,568.0 754.5,567.8 761.5,567.6 768.5,567.5 775.5,567.2 782.5,566.8 789.5,566.5 796.5,566.4 803.5,566.4 810.5,566.4 817.5,566.3 824.5,565.8 831.5,565.2 838.5,564.7 845.5,564.6 852.5,564.5 859.5,563.8 866.5,563.0 873.5,562.3 880.5,561.8 887.5,561.4 894.5,561.0 901.5,560.6 908.5,560.2 915.5,559.8 922.5,559.4 929.5,559.0 936.5,558.7 943.5,558.5 950.5,558.1 957.5,557.6 964.5,557.0 971.5,556.3 978.5,555.5 985.5,554.7 992.5,553.8 999.5,553.2 1006.5,552.8 1013.5,552.3 1020.5,551.5 1027.5,550.8 1034.5,550.3 1041.5,550.2 1048.5,550.2 1055.5,550.4 1062.5,550.6 1069.5,550.8 1076.5,550.8 1083.5,551.0 1090.5,551.4 1097.5,551.9 1104.5,552.3 1111.5,552.5 1118.5,552.7 1125.5,553.0 1132.5,553.5 1139.5,553.8 1146.5,554.0 1153.5,554.4 1160.5,555.2 1167.5,556.3 1174.5,557.1 1181.5,557.4 1188.5,557.4" fill="none" stroke="#1e8cff" stroke-width="2" stroke-linejoin="round" stroke-linecap="round"/>
<polyline points="26.5,567.0 33.5,567.2 40.5,567.4 47.5,567.7 54.5,568.2 61.5,568.8 68.5,569.4 75.5,569.6 82.5,569.9 89.5,570.0 96.5,570.0 103.5,570.0 110.5,570.0 117.5,570.0 124.5,570.1 131.5,570.2 138.5,570.4 145.5,570.4 152.5,570.4 159.5,570.4 166.5,570.4 173.5,570.4 180.5,570.4 187.5,570.4 194.5,570.4 201.5,570.3 208.5,570.0 215.5,569.6 222.5,569.3 229.5,569.2 236.5,569.2 243.5,569.2 250.5,569.2 257.5,569.2 264.5,569.5 271.5,569.8 278.5,570.0 285.5,570.0 292.5,570.0 299.5,569.8 306.5,569.5 313.5,569.2 320.5,569.2 327.5,569.2 334.5,569.2 341.5,569.2 348.5,569.0 355.5,568.7 362.5,568.5 369.5,568.5 376.5,568.5 383.5,568.5 390.5,568.5 397.5,568.5 404.5,568.5 411.5,568.5 418.5,568.6 425.5,568.8 432.5,568.9 439.5,569.1 446.5,569.2 453.5,569.3 460.5,569.4 467.5,569.5 474.5,569.6 481.5,569.7 488.5,569.8 495.5,569.9 502.5,569.8 509.5,569.6 516.5,569.4 523.5,569.1 530.5,568.9 537.5,568.7 544.5,568.7 551.5,568.9 558.5,569.1 565.5,569.3 572.5,569.5 579.5,569.8 586.5,570.0 593.5,570.2 600.5,570.4 607.5,570.5 614.5,570.6 621.5,570.6 628.5,570.6 635.5,570.6 642.5,570.6 649.5,570.6 656.5,570.6 663.5,570.6 670.5,570.6 677.5,570.6 684.5,570.6 691.5,570.6 698.5,570.6 705.5,570.6 712.5,570.6 719.5,570.6 726.5,570.6 733.5,570.6 740.5,570.6 747.5,570.6 754.5,570.6 761.5,570.6 768.5,570.6 775.5,570.6 782.5,570.6 789.5,570.6 796.5,570.6 803.5,570.4 810.5,569.9 817.5,569.0 824.5,568.2 831.5,567.6 838.5,567.2 845.5,566.8 852.5,566.4 859.5,566.2 866.5,565.6 873.5,565.0 880.5,564.6 887.5,564.0 894.5,563.4 901.5,562.9 908.5,562.7 915.5,562.4 922.5,561.9 929.5,561.7 936.5,561.6 943.5,561.5 950.5,561.1 957.5,560.7 964.5,560.3 971.5,559.8 978.5,559.2 985.5,558.6 992.5,558.3 999.5,557.9 1006.5,557.6 1013.5,557.3 1020.5,556.9 1027.5,556.5 1034.5,556.0 1041.5,555.7 1048.5,555.5 1055.5,555.3 1062.5,555.0 1069.5,555.0 1076.5,555.4 1083.5,555.9 1090.5,556.1 1097.5,556.2 1104.5,556.2 1111.5,556.2 1118.5,556.2 1125.5,556.2 1132.5,556.2 1139.5,556.2 1146.5,556.2 1153.5,556.2 1160.5,556.2 1167.5,556.2 1174.5,556.2 1181.5,556.2 1188.5,556.2" fill="none" stroke="#ff8020" stroke-width="2" stroke-linejoin="round" stroke-linecap="round"/>
<polyline points="26.5,561.6 33.5,561.6 40.5,561.6 47.5,561.6 54.5,561.6 61.5,561.6 68.5,561.6 75.5,561.6 82.5,561.6 89.5,561.6 96.5,561.6 103.5,561.6 110.5,561.8 117.5,562.1 124.5,562.5 131.5,562.7 138.5,562.8 145.5,562.8 152.5,562.7 159.5,562.4 166.5,562.0 173.5,561.7 180.5,561.6 187.5,561.6 194.5,561.6 201.5,561.6 208.5,561.6 215.5,561.6 222.5,561.6 229.5,561.6 236.5,561.6 243.5,561.6 250.5,561.6 257.5,561.6 264.5,561.6 271.5,561.6 278.5,561.6 285.5,561.6 292.5,561.6 299.5,561.8 306.5,562.2 313.5,562.8 320.5,563.1 327.5,563.2 334.5,563.4 341.5,563.7 348.5,563.9 355.5,564.0 362.5,564.1 369.5,564.4 376.5,564.8 383.5,565.2 390.5,565.5 397.5,566.0 404.5,566.4 411.5,566.6 418.5,566.8 425.5,567.2 432.5,567.7 439.5,568.1 446.5,568.6 453.5,569.1 460.5,569.3 467.5,569.4 474.5,569.4 481.5,569.4 488.5,569.5 495.5,569.6 502.5,569.9 509.5,570.0 516.5,570.0 523.5,570.0 530.5,570.0 537.5,570.0 544.5,570.0 551.5,570.0 558.5,570.0 565.5,570.0 572.5,570.0 579.5,570.0 586.5,570.0 593.5,570.0 600.5,570.0 607.5,570.0 614.5,570.0 621.5,570.0 628.5,570.0 635.5,570.0 642.5,570.0 649.5,570.0 656.5,570.0 663.5,570.0 670.5,570.0 677.5,570.0 684.5,570.0 691.5,570.0 698.5,570.0 705.5,570.0 712.5,570.0 719.5,570.0 726.5,570.0 733.5,570.0 740.5,570.0 747.5,570.0 754.5,570.0 761.5,570.0 768.5,570.0 775.5,570.0 782.5,570.0 789.5,570.0 796.5,569.8 803.5,569.6 810.5,569.4 817.5,569.4 824.5,569.4 831.5,569.3 838.5,569.0 845.5,568.6 852.5,568.3 859.5,568.2 866.5,568.1 873.5,567.8 880.5,567.4 887.5,567.0 894.5,566.6 901.5,566.2 908.5,565.9 915.5,565.8 922.5,565.7 929.5,565.4 936.5,565.0 943.5,564.7 950.5,564.6 957.5,564.6 964.5,564.4 971.5,564.0 978.5,563.8 985.5,563.8 992.5,563.8 999.5,563.8 1006.5,563.8 1013.5,563.7 1020.5,563.4 1027.5,563.0 1034.5,562.8 1041.5,562.8 1048.5,562.8 1055.5,562.8 1062.5,562.8 1069.5,562.8 1076.5,562.8 1083.5,562.8 1090.5,562.8 1097.5,562.8 1104.5,562.8 1111.5,562.8 1118.5,562.8 1125.5,562.8 1132.5,562.8 1139.5,562.8 1146.5,562.8 1153.5,562.9 1160.5,563.1 1167.5,563.5 1174.5,563.9 1181.5,564.0 1188.5,564.0" fill="none" stroke="#000" stroke-width="2" stroke-linejoin="round" stroke-linecap="round"/>
</g>
<rect x="1279" y="511" width="92" height="18" fill="#fff"/><rect x="1279" y="511" width="1" height="18" fill="#000"/><rect x="1279" y="528.5" width="92" height="1" fill="#000"/>
<text x="1325" y="524.5" font-size="12" fill="#333" text-anchor="middle" font-family='"Liberation Sans", "Noto Sans CJK SC", sans-serif'>金额</text>
<polygon points="1359.5,519 1366.5,519 1363,523" fill="#333" shape-rendering="geometricPrecision"/>
<text x="1373.4" y="535.8" font-size="12" fill="#000">3964</text>
<text x="1373.4" y="579.8" font-size="12" fill="#000">1982</text>
<rect x="1372.5" y="605.5" width="29" height="13.5" fill="#fff" stroke="#666" stroke-width="1"/>
<text x="1373" y="617" font-size="12" fill="#000" textLength="27" lengthAdjust="spacingAndGlyphs">X100</text>
<text x="22" y="634.2" font-size="12" fill="#ff3030" textLength="121" lengthAdjust="spacingAndGlyphs">KDJ(20,3,3) K: +85.64</text>
<g shape-rendering="geometricPrecision"><rect x="145.8" y="627.0" width="1.2" height="10.0" fill="#ff9a80"/><path d="M144.1 629.1 L146.4 626.4 L148.7 629.1" fill="none" stroke="#ff3a3a" stroke-width="1.2"/></g>
<text x="153.3" y="634.2" font-size="12" fill="#00d8f0" textLength="52.5" lengthAdjust="spacingAndGlyphs">D: +75.50</text>
<g shape-rendering="geometricPrecision"><rect x="208.3" y="627.0" width="1.2" height="10.0" fill="#ff9a80"/><path d="M206.6 629.1 L208.9 626.4 L211.2 629.1" fill="none" stroke="#ff3a3a" stroke-width="1.2"/></g>
<g shape-rendering="geometricPrecision">
<polyline points="26.0,728.3 34.4,730.7 48.8,730.7 56.0,722.3 62.0,720.6 70.4,711.0 82.4,701.9 94.4,705.0 102.8,705.5 111.2,714.6 117.2,718.2 125.6,717.0 132.8,719.4 140.0,724.2 144.8,725.9 150.9,718.2 159.3,706.2 166.5,702.6 173.7,689.4 180.9,677.9 189.3,673.3 195.3,674.3 201.3,677.4 209.7,667.8 215.7,664.2 224.1,653.4 231.3,650.3 243.3,650.3 250.5,654.6 260.1,657.7 269.7,659.9 278.1,659.9 285.3,664.2 291.3,658.2 299.7,652.2 306.9,651.7 312.9,653.4 321.3,646.2 329.7,643.8 341.7,643.8 350.1,641.4 360.9,645.7 373.0,646.9 382.6,647.4 389.8,653.4 397.0,663.0 406.6,672.6 410.0,674.5 418.4,678.6 425.6,687.0 432.8,688.2 440.0,693.8 447.2,699.0 455.6,699.0 466.4,695.4 473.6,679.8 482.0,667.3 489.2,657.0 496.4,651.0 508.4,647.4 518.0,641.9 527.6,643.1 539.6,643.1 546.9,640.7 555.3,640.7 563.7,646.9 578.1,649.1 587.7,654.6 593.7,661.3 600.9,666.6 608.1,673.3 614.1,675.0 621.3,680.5 638.1,681.0 644.1,684.6 650.1,691.8 656.1,705.0 662.1,702.6 670.5,697.1 678.9,699.0 684.9,700.2 692.1,708.6 699.3,714.6 706.5,713.4 712.5,700.2 719.7,689.4 726.9,679.8 732.9,678.6 738.9,688.2 746.1,699.0 753.3,707.4 760.5,717.0 767.7,715.8 782.1,715.8 789.3,722.6 796.5,723.0 803.6,726.2 809.6,722.6 816.8,715.8 824.0,705.0 831.2,699.0 852.8,699.0 860.0,691.8 867.2,685.8 874.4,671.4 881.6,659.4 888.8,651.0 896.0,646.9 908.0,646.9 915.2,648.6 922.4,653.4 930.8,653.4 936.8,646.2 944.0,643.8 951.2,648.6 957.2,653.4 963.2,667.8 971.6,690.6 978.8,700.2 984.8,706.7 992.0,706.7 999.2,702.2 1007.6,697.8 1014.8,697.8 1022.0,691.4 1026.8,691.4 1034.0,696.2 1041.2,700.2 1048.4,709.8 1054.4,709.1 1061.6,709.1 1071.2,713.0 1078.4,715.8 1083.2,719.0 1090.4,717.0 1097.6,723.5 1103.6,727.1 1109.6,726.2 1114.4,725.0 1126.4,725.0 1133.6,724.2 1140.8,725.9 1146.8,725.4 1152.8,720.6 1158.8,719.0 1164.8,719.4 1172.0,722.3 1178.0,722.3 1184.0,718.7 1188.8,717.8" fill="none" stroke="#ff2020" stroke-width="2" stroke-linejoin="round" stroke-linecap="round"/>
<polyline points="26.0,726.6 39.2,729.0 48.8,729.0 60.8,725.4 72.8,717.0 84.8,709.8 94.4,707.4 102.8,707.0 116.0,711.8 128.0,714.6 140.0,719.4 147.2,720.2 156.9,717.0 166.5,711.0 176.1,700.2 188.1,687.0 197.7,682.2 207.3,677.9 214.5,673.3 224.1,665.4 236.1,657.5 248.1,654.6 260.1,655.8 274.5,657.7 284.1,659.9 293.7,658.9 305.7,655.8 315.3,654.1 327.3,649.1 339.3,647.4 351.3,643.8 363.3,644.3 375.3,645.0 384.9,646.2 392.1,648.6 401.7,658.2 410.0,663.7 422.0,672.6 434.0,681.0 446.0,689.0 458.0,693.8 467.6,693.0 477.2,685.8 486.8,675.0 498.8,663.0 510.8,655.3 522.8,648.6 534.8,645.7 544.5,644.5 555.3,641.9 566.1,644.3 578.1,646.9 590.1,651.5 599.7,657.0 609.3,664.2 621.3,670.7 633.3,675.0 642.9,678.6 650.1,683.4 659.7,693.0 671.7,694.2 683.7,697.8 693.3,703.8 701.7,707.0 710.1,707.0 719.7,701.4 726.9,694.2 734.1,689.9 741.3,690.6 750.9,695.4 760.5,705.0 770.1,709.4 782.1,713.0 794.1,717.8 803.7,720.6 809.6,720.6 819.2,717.8 828.8,709.8 838.4,705.0 850.4,702.6 860.0,699.0 869.6,691.8 879.2,681.0 888.8,669.0 898.4,659.4 908.0,654.6 917.6,652.7 929.6,652.7 939.2,650.3 947.6,647.9 957.2,649.1 965.6,658.2 972.8,669.0 980.0,678.6 987.2,689.4 994.4,695.4 1001.6,697.1 1013.6,697.1 1023.2,695.0 1032.8,694.2 1042.4,696.6 1049.6,701.4 1059.2,704.3 1071.2,707.9 1083.2,713.4 1090.4,714.2 1100.0,718.2 1109.6,722.6 1119.2,724.2 1136.0,724.2 1145.6,725.0 1155.2,722.6 1164.8,721.1 1174.4,722.3 1184.0,721.1 1188.8,720.6" fill="none" stroke="#00dcf4" stroke-width="2.05" stroke-linejoin="round" stroke-linecap="round"/>
</g>
<rect x="1305" y="620.0" width="66" height="19" fill="#fff"/><rect x="1305" y="620.0" width="1" height="19" fill="#000"/><rect x="1305" y="638.0" width="66" height="1" fill="#000"/>
<text x="1338.5" y="633.5" font-size="12" fill="#333" text-anchor="middle" font-family='"Liberation Sans", "Noto Sans CJK SC", sans-serif'>指标说明</text>
<rect x="1305" y="733.0" width="66" height="19" fill="#fff"/><rect x="1305" y="733.0" width="1" height="19" fill="#000"/><rect x="1305" y="751.0" width="66" height="1" fill="#000"/>
<text x="1338.5" y="746.5" font-size="12" fill="#333" text-anchor="middle" font-family='"Liberation Sans", "Noto Sans CJK SC", sans-serif'>指标说明</text>
<text x="1422" y="644.8" font-size="12" fill="#d0202c" text-anchor="end">+93.09</text>
<text x="1422" y="691" font-size="12" fill="#d0202c" text-anchor="end">+48.46</text>
<text x="22" y="746.8" font-size="12" fill="#c0c0c0" textLength="82.5" lengthAdjust="spacingAndGlyphs">MACD(10,20,9)</text>
<text x="109.3" y="746.8" font-size="12" fill="#b0182c" textLength="78" lengthAdjust="spacingAndGlyphs">MACD: +28.39</text>
<g shape-rendering="geometricPrecision"><rect x="190.3" y="738.6" width="1.2" height="10.0" fill="#7fe4ff"/><path d="M188.6 746.5 L190.9 749.2 L193.2 746.5" fill="none" stroke="#30d0ff" stroke-width="1.2"/></g>
<text x="197.2" y="746.8" font-size="12" fill="#ff3030" textLength="70" lengthAdjust="spacingAndGlyphs">DIFF: +18.88</text>
<g shape-rendering="geometricPrecision"><rect x="269.8" y="739.6" width="1.2" height="10.0" fill="#ff9a80"/><path d="M268.1 741.7 L270.4 739.0 L272.7 741.7" fill="none" stroke="#ff3a3a" stroke-width="1.2"/></g>
<text x="278" y="746.8" font-size="12" fill="#00d8f0" textLength="60.5" lengthAdjust="spacingAndGlyphs">DEA: +4.69</text>
<g shape-rendering="geometricPrecision"><rect x="341.3" y="739.6" width="1.2" height="10.0" fill="#ff9a80"/><path d="M339.6 741.7 L341.9 739.0 L344.2 741.7" fill="none" stroke="#ff3a3a" stroke-width="1.2"/></g>
<g id="macdbars">
<rect x="25.0" y="803.5" width="2" height="10.8" fill="#1c8a1c"/>
<rect x="32.0" y="803.5" width="2" height="9.6" fill="#1c8a1c"/>
<rect x="39.0" y="803.5" width="2" height="16.8" fill="#1c8a1c"/>
<rect x="46.0" y="803.5" width="2" height="17.5" fill="#1c8a1c"/>
<rect x="53.0" y="803.5" width="2" height="9.1" fill="#1c8a1c"/>
<rect x="60.0" y="803.5" width="2" height="6.0" fill="#1c8a1c"/>
<rect x="67.0" y="796.3" width="2" height="7.2" fill="#c00a14"/>
<rect x="74.0" y="787.2" width="2" height="16.3" fill="#c00a14"/>
<rect x="81.0" y="782.4" width="2" height="21.1" fill="#c00a14"/>
<rect x="88.0" y="786.2" width="2" height="17.3" fill="#c00a14"/>
<rect x="95.0" y="790.3" width="2" height="13.2" fill="#c00a14"/>
<rect x="102.0" y="793.4" width="2" height="10.1" fill="#c00a14"/>
<rect x="109.0" y="803.5" width="2" height="3.1" fill="#1c8a1c"/>
<rect x="116.0" y="803.5" width="2" height="10.1" fill="#1c8a1c"/>
<rect x="123.0" y="803.5" width="2" height="9.1" fill="#1c8a1c"/>
<rect x="130.0" y="803.5" width="2" height="9.1" fill="#1c8a1c"/>
<rect x="137.0" y="803.5" width="2" height="16.3" fill="#1c8a1c"/>
<rect x="144.0" y="803.5" width="2" height="22.1" fill="#1c8a1c"/>
<rect x="151.0" y="803.5" width="2" height="9.1" fill="#1c8a1c"/>
<rect x="158.0" y="799.4" width="2" height="4.1" fill="#c00a14"/>
<rect x="165.0" y="792.7" width="2" height="10.8" fill="#c00a14"/>
<rect x="172.0" y="776.4" width="2" height="27.1" fill="#c00a14"/>
<rect x="179.0" y="766.3" width="2" height="37.2" fill="#c00a14"/>
<rect x="186.0" y="764.6" width="2" height="38.9" fill="#c00a14"/>
<rect x="193.0" y="768.2" width="2" height="35.3" fill="#c00a14"/>
<rect x="200.0" y="774.7" width="2" height="28.8" fill="#c00a14"/>
<rect x="207.0" y="769.4" width="2" height="34.1" fill="#c00a14"/>
<rect x="214.0" y="767.5" width="2" height="36.0" fill="#c00a14"/>
<rect x="221.0" y="760.3" width="2" height="43.2" fill="#c00a14"/>
<rect x="228.0" y="761.0" width="2" height="42.5" fill="#c00a14"/>
<rect x="235.0" y="766.3" width="2" height="37.2" fill="#c00a14"/>
<rect x="242.0" y="773.5" width="2" height="30.0" fill="#c00a14"/>
<rect x="249.0" y="782.4" width="2" height="21.1" fill="#c00a14"/>
<rect x="256.0" y="789.1" width="2" height="14.4" fill="#c00a14"/>
<rect x="263.0" y="793.2" width="2" height="10.3" fill="#c00a14"/>
<rect x="270.0" y="798.7" width="2" height="4.8" fill="#c00a14"/>
<rect x="277.0" y="799.9" width="2" height="3.6" fill="#c00a14"/>
<rect x="284.0" y="803.5" width="2" height="2.4" fill="#1c8a1c"/>
<rect x="291.0" y="797.5" width="2" height="6.0" fill="#c00a14"/>
<rect x="298.0" y="792.7" width="2" height="10.8" fill="#c00a14"/>
<rect x="305.0" y="786.7" width="2" height="16.8" fill="#c00a14"/>
<rect x="312.0" y="784.3" width="2" height="19.2" fill="#c00a14"/>
<rect x="319.0" y="779.5" width="2" height="24.0" fill="#c00a14"/>
<rect x="326.0" y="775.4" width="2" height="28.1" fill="#c00a14"/>
<rect x="333.0" y="776.4" width="2" height="27.1" fill="#c00a14"/>
<rect x="340.0" y="780.0" width="2" height="23.5" fill="#c00a14"/>
<rect x="347.0" y="778.3" width="2" height="25.2" fill="#c00a14"/>
<rect x="354.0" y="785.5" width="2" height="18.0" fill="#c00a14"/>
<rect x="361.0" y="791.5" width="2" height="12.0" fill="#c00a14"/>
<rect x="368.0" y="796.3" width="2" height="7.2" fill="#c00a14"/>
<rect x="375.0" y="800.4" width="2" height="3.1" fill="#c00a14"/>
<rect x="389.0" y="803.5" width="2" height="9.6" fill="#1c8a1c"/>
<rect x="396.0" y="803.5" width="2" height="21.1" fill="#1c8a1c"/>
<rect x="403.0" y="803.5" width="2" height="27.1" fill="#1c8a1c"/>
<rect x="410.0" y="803.5" width="2" height="28.3" fill="#1c8a1c"/>
<rect x="417.0" y="803.5" width="2" height="29.3" fill="#1c8a1c"/>
<rect x="424.0" y="803.5" width="2" height="25.9" fill="#1c8a1c"/>
<rect x="431.0" y="803.5" width="2" height="18.5" fill="#1c8a1c"/>
<rect x="438.0" y="803.5" width="2" height="14.4" fill="#1c8a1c"/>
<rect x="445.0" y="803.5" width="2" height="13.2" fill="#1c8a1c"/>
<rect x="452.0" y="803.5" width="2" height="9.1" fill="#1c8a1c"/>
<rect x="459.0" y="803.5" width="2" height="5.3" fill="#1c8a1c"/>
<rect x="466.0" y="803.5" width="2" height="2.4" fill="#1c8a1c"/>
<rect x="473.0" y="798.7" width="2" height="4.8" fill="#c00a14"/>
<rect x="480.0" y="789.8" width="2" height="13.7" fill="#c00a14"/>
<rect x="487.0" y="782.6" width="2" height="20.9" fill="#c00a14"/>
<rect x="494.0" y="780.7" width="2" height="22.8" fill="#c00a14"/>
<rect x="501.0" y="779.5" width="2" height="24.0" fill="#c00a14"/>
<rect x="508.0" y="782.4" width="2" height="21.1" fill="#c00a14"/>
<rect x="515.0" y="779.5" width="2" height="24.0" fill="#c00a14"/>
<rect x="522.0" y="773.5" width="2" height="30.0" fill="#c00a14"/>
<rect x="529.0" y="772.3" width="2" height="31.2" fill="#c00a14"/>
<rect x="536.0" y="774.7" width="2" height="28.8" fill="#c00a14"/>
<rect x="543.0" y="776.4" width="2" height="27.1" fill="#c00a14"/>
<rect x="550.0" y="777.6" width="2" height="25.9" fill="#c00a14"/>
<rect x="557.0" y="778.3" width="2" height="25.2" fill="#c00a14"/>
<rect x="564.0" y="786.7" width="2" height="16.8" fill="#c00a14"/>
<rect x="571.0" y="789.6" width="2" height="13.9" fill="#c00a14"/>
<rect x="578.0" y="794.4" width="2" height="9.1" fill="#c00a14"/>
<rect x="585.0" y="803.5" width="2" height="0.5" fill="#1c8a1c"/>
<rect x="592.0" y="803.5" width="2" height="11.3" fill="#1c8a1c"/>
<rect x="599.0" y="803.5" width="2" height="18.5" fill="#1c8a1c"/>
<rect x="606.0" y="803.5" width="2" height="23.3" fill="#1c8a1c"/>
<rect x="613.0" y="803.5" width="2" height="20.4" fill="#1c8a1c"/>
<rect x="620.0" y="803.5" width="2" height="19.9" fill="#1c8a1c"/>
<rect x="627.0" y="803.5" width="2" height="16.3" fill="#1c8a1c"/>
<rect x="634.0" y="803.5" width="2" height="13.2" fill="#1c8a1c"/>
<rect x="641.0" y="803.5" width="2" height="13.2" fill="#1c8a1c"/>
<rect x="648.0" y="803.5" width="2" height="16.3" fill="#1c8a1c"/>
<rect x="655.0" y="803.5" width="2" height="23.3" fill="#1c8a1c"/>
<rect x="662.0" y="803.5" width="2" height="16.3" fill="#1c8a1c"/>
<rect x="669.0" y="803.5" width="2" height="10.3" fill="#1c8a1c"/>
<rect x="676.0" y="803.5" width="2" height="10.3" fill="#1c8a1c"/>
<rect x="683.0" y="803.5" width="2" height="10.3" fill="#1c8a1c"/>
<rect x="690.0" y="803.5" width="2" height="14.4" fill="#1c8a1c"/>
<rect x="697.0" y="803.5" width="2" height="17.5" fill="#1c8a1c"/>
<rect x="704.0" y="803.5" width="2" height="15.1" fill="#1c8a1c"/>
<rect x="711.0" y="803.5" width="2" height="8.4" fill="#1c8a1c"/>
<rect x="718.0" y="803.5" width="2" height="4.3" fill="#1c8a1c"/>
<rect x="732.0" y="803.5" width="2" height="0.5" fill="#1c8a1c"/>
<rect x="739.0" y="803.5" width="2" height="5.3" fill="#1c8a1c"/>
<rect x="746.0" y="803.5" width="2" height="10.3" fill="#1c8a1c"/>
<rect x="753.0" y="803.5" width="2" height="14.4" fill="#1c8a1c"/>
<rect x="760.0" y="803.5" width="2" height="20.4" fill="#1c8a1c"/>
<rect x="767.0" y="803.5" width="2" height="18.5" fill="#1c8a1c"/>
<rect x="774.0" y="803.5" width="2" height="17.5" fill="#1c8a1c"/>
<rect x="781.0" y="803.5" width="2" height="17.5" fill="#1c8a1c"/>
<rect x="788.0" y="803.5" width="2" height="18.5" fill="#1c8a1c"/>
<rect x="795.0" y="803.5" width="2" height="16.3" fill="#1c8a1c"/>
<rect x="802.0" y="803.5" width="2" height="14.4" fill="#1c8a1c"/>
<rect x="809.0" y="803.5" width="2" height="9.6" fill="#1c8a1c"/>
<rect x="816.0" y="803.5" width="2" height="2.4" fill="#1c8a1c"/>
<rect x="823.0" y="796.3" width="2" height="7.2" fill="#c00a14"/>
<rect x="830.0" y="792.7" width="2" height="10.8" fill="#c00a14"/>
<rect x="837.0" y="791.5" width="2" height="12.0" fill="#c00a14"/>
<rect x="844.0" y="792.7" width="2" height="10.8" fill="#c00a14"/>
<rect x="851.0" y="793.2" width="2" height="10.3" fill="#c00a14"/>
<rect x="858.0" y="790.3" width="2" height="13.2" fill="#c00a14"/>
<rect x="865.0" y="787.2" width="2" height="16.3" fill="#c00a14"/>
<rect x="872.0" y="781.9" width="2" height="21.6" fill="#c00a14"/>
<rect x="879.0" y="779.5" width="2" height="24.0" fill="#c00a14"/>
<rect x="886.0" y="779.5" width="2" height="24.0" fill="#c00a14"/>
<rect x="893.0" y="778.3" width="2" height="25.2" fill="#c00a14"/>
<rect x="900.0" y="781.2" width="2" height="22.3" fill="#c00a14"/>
<rect x="907.0" y="784.3" width="2" height="19.2" fill="#c00a14"/>
<rect x="914.0" y="787.9" width="2" height="15.6" fill="#c00a14"/>
<rect x="921.0" y="793.9" width="2" height="9.6" fill="#c00a14"/>
<rect x="928.0" y="796.3" width="2" height="7.2" fill="#c00a14"/>
<rect x="935.0" y="793.2" width="2" height="10.3" fill="#c00a14"/>
<rect x="942.0" y="790.3" width="2" height="13.2" fill="#c00a14"/>
<rect x="949.0" y="793.2" width="2" height="10.3" fill="#c00a14"/>
<rect x="956.0" y="797.0" width="2" height="6.5" fill="#c00a14"/>
<rect x="963.0" y="803.5" width="2" height="5.5" fill="#1c8a1c"/>
<rect x="970.0" y="803.5" width="2" height="16.3" fill="#1c8a1c"/>
<rect x="977.0" y="803.5" width="2" height="24.0" fill="#1c8a1c"/>
<rect x="984.0" y="803.5" width="2" height="28.3" fill="#1c8a1c"/>
<rect x="991.0" y="803.5" width="2" height="25.2" fill="#1c8a1c"/>
<rect x="998.0" y="803.5" width="2" height="18.5" fill="#1c8a1c"/>
<rect x="1005.0" y="803.5" width="2" height="12.5" fill="#1c8a1c"/>
<rect x="1012.0" y="803.5" width="2" height="7.2" fill="#1c8a1c"/>
<rect x="1019.0" y="803.5" width="2" height="2.4" fill="#1c8a1c"/>
<rect x="1033.0" y="803.5" width="2" height="3.6" fill="#1c8a1c"/>
<rect x="1040.0" y="803.5" width="2" height="5.3" fill="#1c8a1c"/>
<rect x="1047.0" y="803.5" width="2" height="10.3" fill="#1c8a1c"/>
<rect x="1054.0" y="803.5" width="2" height="6.0" fill="#1c8a1c"/>
<rect x="1061.0" y="803.5" width="2" height="5.5" fill="#1c8a1c"/>
<rect x="1068.0" y="803.5" width="2" height="5.5" fill="#1c8a1c"/>
<rect x="1075.0" y="803.5" width="2" height="5.5" fill="#1c8a1c"/>
<rect x="1082.0" y="803.5" width="2" height="6.5" fill="#1c8a1c"/>
<rect x="1089.0" y="803.5" width="2" height="3.6" fill="#1c8a1c"/>
<rect x="1096.0" y="803.5" width="2" height="6.5" fill="#1c8a1c"/>
<rect x="1103.0" y="803.5" width="2" height="12.7" fill="#1c8a1c"/>
<rect x="1110.0" y="803.5" width="2" height="15.1" fill="#1c8a1c"/>
<rect x="1117.0" y="803.5" width="2" height="16.3" fill="#1c8a1c"/>
<rect x="1124.0" y="803.5" width="2" height="16.3" fill="#1c8a1c"/>
<rect x="1131.0" y="803.5" width="2" height="14.4" fill="#1c8a1c"/>
<rect x="1138.0" y="803.5" width="2" height="15.1" fill="#1c8a1c"/>
<rect x="1145.0" y="803.5" width="2" height="13.2" fill="#1c8a1c"/>
<rect x="1152.0" y="803.5" width="2" height="4.3" fill="#1c8a1c"/>
<rect x="1173.0" y="803.5" width="2" height="1.2" fill="#1c8a1c"/>
<rect x="1180.0" y="801.6" width="2" height="1.9" fill="#c00a14"/>
<rect x="1187.0" y="796.3" width="2" height="7.2" fill="#c00a14"/>
</g>
<g shape-rendering="geometricPrecision">
<polyline points="26.0,846.9 32.0,846.9 39.2,851.7 47.6,854.9 56.0,852.0 63.2,851.2 70.4,842.8 77.6,836.8 83.6,832.8 89.6,832.8 96.8,834.4 102.8,834.4 110.0,840.9 118.4,846.9 125.6,847.7 132.8,850.8 140.0,856.1 146.0,860.1 152.1,855.3 159.3,848.8 166.5,844.0 173.7,832.0 180.9,823.6 188.1,816.9 195.3,815.2 201.3,814.5 209.7,806.8 216.9,799.6 224.1,792.9 231.3,788.8 238.5,786.9 245.7,788.1 252.9,791.2 260.1,792.4 267.3,794.8 276.9,794.8 284.1,797.9 291.3,794.8 298.5,790.5 305.7,786.4 312.9,783.3 320.1,776.8 327.3,771.3 334.5,768.9 341.7,767.2 348.9,764.8 354.9,764.8 363.3,767.9 370.5,769.6 377.7,770.8 384.9,774.4 392.1,780.4 399.3,787.6 406.5,793.6 410.0,796.0 416.0,800.3 423.2,803.9 431.6,803.7 441.2,802.7 458.0,802.5 467.6,800.8 473.6,795.3 480.8,790.0 489.2,784.0 496.4,780.4 508.4,777.5 515.6,773.7 522.8,767.2 530.0,761.2 539.6,758.3 546.9,755.9 552.9,753.5 573.3,753.5 580.5,754.7 587.7,762.4 594.9,769.6 602.1,774.9 608.1,779.7 614.1,779.7 621.3,782.8 635.7,782.8 642.9,785.2 650.1,789.5 656.1,794.8 662.1,794.8 666.9,793.6 676.5,793.6 683.7,795.3 690.9,799.6 698.1,803.9 706.5,803.9 714.9,800.8 722.1,799.6 731.7,798.9 738.9,802.0 746.1,806.3 753.3,811.2 761.7,816.4 767.7,816.4 774.9,820.0 782.1,822.0 789.3,824.8 796.5,825.3 801.3,826.8 807.2,826.8 816.8,823.2 826.4,816.4 836.0,812.8 850.4,810.9 860.0,806.8 869.6,803.2 879.2,796.0 886.4,793.6 893.6,788.3 915.2,788.3 921.2,790.0 930.8,790.0 936.8,787.6 942.8,785.2 956.0,785.9 963.2,791.2 970.4,799.6 977.6,808.0 984.8,812.8 990.8,814.8 998.0,814.8 1006.4,812.1 1014.8,811.6 1020.8,808.8 1028.0,809.2 1040.0,810.9 1048.4,815.7 1061.6,815.2 1068.8,816.4 1078.4,817.6 1090.4,817.6 1097.6,820.8 1104.8,824.8 1112.0,828.9 1121.6,832.8 1133.6,834.4 1140.8,836.8 1148.0,836.8 1155.2,833.2 1162.4,832.0 1170.8,832.8 1179.2,832.0 1184.0,830.4 1188.8,828.9" fill="none" stroke="#ff2020" stroke-width="2" stroke-linejoin="round" stroke-linecap="round"/>
<polyline points="26.0,840.4 32.0,840.9 39.2,844.0 48.8,846.9 58.4,848.1 68.0,847.7 77.6,844.8 87.2,841.6 96.8,840.0 106.4,839.2 116.0,841.6 125.6,843.3 135.2,845.7 144.8,848.8 152.1,849.6 161.7,848.8 171.3,845.7 180.9,839.2 190.5,833.7 200.1,828.9 209.7,823.6 219.3,817.6 228.9,810.4 238.5,803.9 248.1,799.6 257.7,797.9 267.3,796.7 276.9,795.5 286.5,796.7 296.1,796.0 305.7,794.3 315.3,790.5 324.9,786.4 334.5,780.9 344.1,777.3 356.1,773.2 365.7,772.0 377.7,772.0 387.3,772.7 396.9,776.8 406.5,781.6 410.0,782.3 419.6,788.3 429.2,792.9 438.8,796.0 448.4,797.9 458.0,799.1 470.0,798.9 479.6,797.9 489.2,793.6 498.8,790.0 508.4,786.9 518.0,783.3 527.6,777.5 537.2,773.2 546.9,768.4 556.5,764.3 566.1,761.2 575.7,759.3 585.3,759.3 594.9,761.9 604.5,765.5 614.1,769.6 623.7,773.2 633.3,775.6 642.9,778.0 652.5,781.6 662.1,784.7 671.7,787.6 681.3,789.5 690.9,791.2 700.5,794.8 710.1,797.2 719.7,798.4 731.7,798.4 741.3,799.6 750.9,802.0 760.5,805.6 770.1,809.2 779.7,812.4 789.3,815.2 798.9,818.8 806.1,820.0 812.0,820.5 824.0,819.6 836.0,817.6 850.4,815.7 864.8,812.8 876.8,808.0 888.8,803.2 900.8,798.4 915.2,793.6 934.4,792.4 946.4,789.5 960.8,788.3 970.4,790.5 980.0,794.8 989.6,799.6 999.2,804.4 1008.8,806.8 1030.4,807.6 1042.4,809.2 1054.4,811.6 1066.4,812.8 1080.8,814.0 1095.2,815.2 1107.2,819.3 1119.2,823.2 1133.6,827.2 1145.6,830.8 1160.0,831.3 1174.4,831.3 1188.8,830.4" fill="none" stroke="#00dcf4" stroke-width="2.05" stroke-linejoin="round" stroke-linecap="round"/>
</g>
<text x="1373.6" y="757.5" font-size="12" fill="#d0202c">+68.21</text>
<text x="1373.6" y="808" font-size="12" fill="#d0202c">+0</text>
<text x="1373.6" y="861.5" font-size="12" fill="#22a022">-75.08</text>
<rect x="23" y="862" width="1" height="4" fill="#333"/>
<text x="24" y="874" font-size="12" fill="#222">09</text>
<rect x="98" y="862" width="1" height="4" fill="#333"/>
<text x="99" y="874" font-size="12" fill="#222">10</text>
<rect x="167.5" y="862" width="1" height="4" fill="#333"/>
<text x="168.5" y="874" font-size="12" fill="#222">11</text>
<rect x="308" y="862" width="1" height="4" fill="#333"/>
<text x="309" y="874" font-size="12" fill="#222">12</text>
<rect x="460.4" y="862" width="1" height="4" fill="#333"/>
<text x="461.4" y="874" font-size="12" fill="#222">01</text>
<rect x="572" y="862" width="1" height="4" fill="#333"/>
<text x="573" y="874" font-size="12" fill="#222">02</text>
<rect x="712.5" y="862" width="1" height="4" fill="#333"/>
<text x="713.5" y="874" font-size="12" fill="#222">03</text>
<rect x="873.6" y="862" width="1" height="4" fill="#333"/>
<text x="874.6" y="874" font-size="12" fill="#222">04</text>
<rect x="1006.3" y="862" width="1" height="4" fill="#333"/>
<text x="1007.3" y="874" font-size="12" fill="#222">05</text>
<rect x="1146.6" y="862" width="1" height="4" fill="#333"/>
<text x="1147.6" y="874" font-size="12" fill="#222">06</text>
<g id="tabbar">
<rect x="22" y="879" width="1035" height="1" fill="#666"/>
<rect x="22" y="895" width="1035" height="1" fill="#666"/>
<rect x="22" y="896" width="1402" height="2" fill="#000"/>
<rect x="22.5" y="879.5" width="32.5" height="15.5" fill="#fff" stroke="#000" stroke-width="1"/>
<text x="36.5" y="892" font-size="12" fill="#111" text-anchor="middle" font-family='"Liberation Sans", "Noto Sans CJK SC", sans-serif'>设置</text>
<rect x="57" y="879.5" width="88" height="15.5" fill="#fff" stroke="#000" stroke-width="1"/>
<rect x="61" y="882" width="27" height="10.5" rx="1.5" fill="#00f0ff" shape-rendering="geometricPrecision"/>
<text x="74.5" y="891" font-size="9" fill="#024" text-anchor="middle" font-weight="bold" textLength="19" lengthAdjust="spacingAndGlyphs">NEW</text>
<text x="91.2" y="892" font-size="12" fill="#111" font-family='"Liberation Sans", "Noto Sans CJK SC", sans-serif' textLength="48.6" lengthAdjust="spacingAndGlyphs">指标平台</text>
<rect x="147" y="879" width="47.5" height="17" fill="#000"/>
<text x="170.05" y="892" font-size="12" fill="#fff" text-anchor="middle" textLength="33.5" lengthAdjust="spacingAndGlyphs">MACD</text>
<rect x="230" y="880" width="1" height="15" fill="#666"/>
<text x="212.8" y="892" font-size="12" fill="#111" text-anchor="middle" font-family='"Liberation Sans", "Noto Sans CJK SC", sans-serif'>KDJ</text>
<rect x="265" y="880" width="1" height="15" fill="#666"/>
<text x="248.25" y="892" font-size="12" fill="#111" text-anchor="middle" font-family='"Liberation Sans", "Noto Sans CJK SC", sans-serif'>RSI</text>
<rect x="310" y="880" width="1" height="15" fill="#666"/>
<text x="288.25" y="892" font-size="12" fill="#111" text-anchor="middle" font-family='"Liberation Sans", "Noto Sans CJK SC", sans-serif'>BOLL</text>
<rect x="348" y="880" width="1" height="15" fill="#666"/>
<text x="329.85" y="892" font-size="12" fill="#111" text-anchor="middle" font-family='"Liberation Sans", "Noto Sans CJK SC", sans-serif'>主力</text>
<rect x="389" y="880" width="1" height="15" fill="#666"/>
<text x="369.5" y="892" font-size="12" fill="#111" text-anchor="middle" font-family='"Liberation Sans", "Noto Sans CJK SC", sans-serif'>W&amp;R</text>
<rect x="425" y="880" width="1" height="15" fill="#666"/>
<text x="407.95000000000005" y="892" font-size="12" fill="#111" text-anchor="middle" font-family='"Liberation Sans", "Noto Sans CJK SC", sans-serif'>DMI</text>
<rect x="465" y="880" width="1" height="15" fill="#666"/>
<text x="445.55" y="892" font-size="12" fill="#111" text-anchor="middle" font-family='"Liberation Sans", "Noto Sans CJK SC", sans-serif'>BIAS</text>
<rect x="496" y="880" width="1" height="15" fill="#666"/>
<text x="481.45" y="892" font-size="12" fill="#111" text-anchor="middle" font-family='"Liberation Sans", "Noto Sans CJK SC", sans-serif'>ASI</text>
<rect x="526" y="880" width="1" height="15" fill="#666"/>
<text x="512.4" y="892" font-size="12" fill="#111" text-anchor="middle" font-family='"Liberation Sans", "Noto Sans CJK SC", sans-serif'>VR</text>
<rect x="573" y="880" width="1" height="15" fill="#666"/>
<text x="550.7" y="892" font-size="12" fill="#111" text-anchor="middle" font-family='"Liberation Sans", "Noto Sans CJK SC", sans-serif'>ARBR</text>
<rect x="613" y="880" width="1" height="15" fill="#666"/>
<text x="594.15" y="892" font-size="12" fill="#111" text-anchor="middle" font-family='"Liberation Sans", "Noto Sans CJK SC", sans-serif'>DPO</text>
<rect x="653" y="880" width="1" height="15" fill="#666"/>
<text x="634.25" y="892" font-size="12" fill="#111" text-anchor="middle" font-family='"Liberation Sans", "Noto Sans CJK SC", sans-serif'>TRIX</text>
<rect x="704" y="880" width="1" height="15" fill="#666"/>
<text x="679.75" y="892" font-size="12" fill="#111" text-anchor="middle" font-family='"Liberation Sans", "Noto Sans CJK SC", sans-serif'>新DMA</text>
<rect x="737" y="880" width="1" height="15" fill="#666"/>
<text x="721.75" y="892" font-size="12" fill="#111" text-anchor="middle" font-family='"Liberation Sans", "Noto Sans CJK SC", sans-serif'>BBI</text>
<rect x="777" y="880" width="1" height="15" fill="#666"/>
<text x="757.85" y="892" font-size="12" fill="#111" text-anchor="middle" font-family='"Liberation Sans", "Noto Sans CJK SC", sans-serif'>MTM</text>
<rect x="815" y="880" width="1" height="15" fill="#666"/>
<text x="796.5" y="892" font-size="12" fill="#111" text-anchor="middle" font-family='"Liberation Sans", "Noto Sans CJK SC", sans-serif'>OBV</text>
<rect x="852" y="880" width="1" height="15" fill="#666"/>
<text x="834.45" y="892" font-size="12" fill="#111" text-anchor="middle" font-family='"Liberation Sans", "Noto Sans CJK SC", sans-serif'>SAR</text>
<rect x="905" y="880" width="1" height="15" fill="#666"/>
<text x="879.95" y="892" font-size="12" fill="#111" text-anchor="middle" font-family='"Liberation Sans", "Noto Sans CJK SC", sans-serif'>EXPMA</text>
<rect x="955" y="880" width="1" height="15" fill="#666"/>
<text x="931.45" y="892" font-size="12" fill="#111" text-anchor="middle" font-family='"Liberation Sans", "Noto Sans CJK SC", sans-serif'>陆股通</text>
<rect x="1005" y="880" width="1" height="15" fill="#666"/>
<text x="981.3499999999999" y="892" font-size="12" fill="#111" text-anchor="middle" font-family='"Liberation Sans", "Noto Sans CJK SC", sans-serif'>沪股通</text>
<rect x="1056" y="880" width="1" height="15" fill="#666"/>
<text x="1031.55" y="892" font-size="12" fill="#111" text-anchor="middle" font-family='"Liberation Sans", "Noto Sans CJK SC", sans-serif'>深股通</text>
</g>
<g id="bottombar">
<rect x="21.5" y="898" width="63.5" height="19" fill="#444"/>
<rect x="22.5" y="898" width="61.5" height="19" fill="#c0c0c0"/>
<text x="51.5" y="911.7" font-size="12" fill="#000" text-anchor="middle" font-family='"Liberation Sans", "Noto Sans CJK SC", sans-serif' textLength="47" lengthAdjust="spacingAndGlyphs">股市直播</text>
<rect x="84.5" y="898" width="63.5" height="19" fill="#444"/>
<rect x="85.5" y="898" width="61.5" height="19" fill="#c0c0c0"/>
<text x="114.5" y="911.7" font-size="12" fill="#000" text-anchor="middle" font-family='"Liberation Sans", "Noto Sans CJK SC", sans-serif' textLength="47" lengthAdjust="spacingAndGlyphs">投资机会</text>
<rect x="147.5" y="898" width="63.5" height="19" fill="#444"/>
<rect x="148.5" y="898" width="61.5" height="19" fill="#c0c0c0"/>
<text x="177.5" y="911.7" font-size="12" fill="#000" text-anchor="middle" font-family='"Liberation Sans", "Noto Sans CJK SC", sans-serif' textLength="47" lengthAdjust="spacingAndGlyphs">高手观点</text>
<g shape-rendering="geometricPrecision" fill="#3c3c3c"><rect x="1398" y="901" width="11" height="2"/><polygon points="1403.5,903 1409,909 1406,909 1406,913 1401,913 1401,909 1398,909"/></g>
<rect x="1423" y="898" width="1" height="19" fill="#000"/>
</g>
<g id="right">
<rect x="1424" y="24" width="1" height="875" fill="#000"/>
<rect x="1424" y="24" width="242" height="1" fill="#000"/>
<rect x="1424" y="53" width="242" height="1" fill="#000"/>
<rect x="1424" y="86" width="242" height="1" fill="#000"/>
<rect x="1424" y="274" width="242" height="1" fill="#000"/>
<rect x="1424" y="341" width="242" height="1" fill="#000"/>
<rect x="1424" y="523" width="242" height="1" fill="#000"/>
<rect x="1546" y="341" width="1" height="182" fill="#000"/>
<rect x="1424" y="898" width="242" height="1" fill="#000"/>
<rect x="1665" y="797" width="1" height="102" fill="#000"/>
<text transform="translate(1468.3,18.5) skewX(-6)" font-size="19" fill="#1f9ab6" font-family='"Liberation Serif", "Noto Serif CJK SC", serif' font-weight="bold" letter-spacing="4.5">沪深</text>
<text x="1513.3" y="18" font-size="21" fill="#1f9ab6" font-family='"Liberation Serif", "Noto Serif CJK SC", serif' font-weight="bold" textLength="32" lengthAdjust="spacingAndGlyphs">300</text>
<text x="1551.8" y="18" font-size="21" fill="#1f9ab6" font-family='"Liberation Serif", "Noto Serif CJK SC", serif' font-weight="bold" textLength="64.7" lengthAdjust="spacingAndGlyphs">000300</text>
<text x="1425.5" y="45" font-size="16" fill="#b8b8b8" font-family='"Liberation Sans", "Noto Sans CJK SC", sans-serif' font-weight="350" textLength="62.5" lengthAdjust="spacingAndGlyphs">跟踪指数</text>
<text x="1501" y="44.5" font-size="14" fill="#c01820" font-weight="bold" textLength="53.7" lengthAdjust="spacingAndGlyphs">+60.73%</text>
<text x="1557.6" y="44.5" font-size="14" fill="#bbb" font-family='"Liberation Sans", "Noto Sans CJK SC", sans-serif' textLength="30.4" lengthAdjust="spacingAndGlyphs">[3年]</text>
<rect x="1610.2" y="27.2" width="49.8" height="23.6" fill="#b00000"/>
<text x="1635" y="44" font-size="13" fill="#fff" text-anchor="middle" font-family='"Liberation Sans", "Noto Sans CJK SC", sans-serif'>去投资</text>
<text x="1425.8" y="75.0" font-size="16" fill="#000" font-family='"Liberation Sans", "Noto Sans CJK SC", sans-serif' font-weight="350">委比</text>
<text x="1543" y="74.5" font-size="14" fill="#109010" text-anchor="end" font-weight="bold">-28.10%</text>
<text x="1662.3" y="74.5" font-size="14" fill="#109010" text-anchor="end" font-weight="bold">-10773223</text>
<text x="1425.8" y="107.0" font-size="16" fill="#000" font-family='"Liberation Sans", "Noto Sans CJK SC", sans-serif' font-weight="350">最新</text>
<text x="1542" y="106.5" font-size="14" fill="#c01820" text-anchor="end" font-weight="bold">3836.70</text>
<text x="1546" y="107.0" font-size="16" fill="#000" font-family='"Liberation Sans", "Noto Sans CJK SC", sans-serif' font-weight="350">昨收</text>
<text x="1662.3" y="106.5" font-size="14" fill="#000" text-anchor="end" font-weight="bold">3820.19</text>
<text x="1425.8" y="138.5" font-size="16" fill="#000" font-family='"Liberation Sans", "Noto Sans CJK SC", sans-serif' font-weight="350">涨跌</text>
<text x="1542" y="138" font-size="14" fill="#c01820" text-anchor="end" font-weight="bold">+16.51</text>
<text x="1546" y="138.5" font-size="16" fill="#000" font-family='"Liberation Sans", "Noto Sans CJK SC", sans-serif' font-weight="350">开盘</text>
<text x="1662.3" y="138" font-size="14" fill="#c01820" text-anchor="end" font-weight="bold">3822.41</text>
<text x="1425.8" y="169.5" font-size="16" fill="#000" font-family='"Liberation Sans", "Noto Sans CJK SC", sans-serif' font-weight="350">涨幅</text>
<text x="1543" y="169" font-size="14" fill="#c01820" text-anchor="end" font-weight="bold">+0.43%</text>
<text x="1546" y="169.5" font-size="16" fill="#000" font-family='"Liberation Sans", "Noto Sans CJK SC", sans-serif' font-weight="350">最高</text>
<text x="1662.3" y="169" font-size="14" fill="#c01820" text-anchor="end" font-weight="bold">3836.70</text>
<text x="1425.8" y="202.0" font-size="16" fill="#000" font-family='"Liberation Sans", "Noto Sans CJK SC", sans-serif' font-weight="350">振幅</text>
<text x="1543" y="201.5" font-size="14" fill="#1e8296" text-anchor="end" font-weight="bold">0.67%</text>
<text x="1546" y="202.0" font-size="16" fill="#000" font-family='"Liberation Sans", "Noto Sans CJK SC", sans-serif' font-weight="350">最低</text>
<text x="1662.3" y="201.5" font-size="14" fill="#109010" text-anchor="end" font-weight="bold">3811.22</text>
<text x="1425.8" y="232.5" font-size="16" fill="#000" font-family='"Liberation Sans", "Noto Sans CJK SC", sans-serif' font-weight="350">现手</text>
<text x="1542" y="232" font-size="14" fill="#1e8296" text-anchor="end" font-weight="bold">1260</text>
<text x="1546" y="232.5" font-size="16" fill="#000" font-family='"Liberation Sans", "Noto Sans CJK SC", sans-serif' font-weight="350">量比</text>
<text x="1662.3" y="232" font-size="14" fill="#c01820" text-anchor="end" font-weight="bold">1.15</text>
<text x="1425.8" y="263.2" font-size="16" fill="#000" font-family='"Liberation Sans", "Noto Sans CJK SC", sans-serif' font-weight="350">总手</text>
<text x="1542" y="263.2" font-size="16" fill="#000" text-anchor="end" font-family='"Liberation Sans", "Noto Sans CJK SC", sans-serif' font-weight="350">万</text>
<text x="1526" y="262.7" font-size="14" fill="#000" text-anchor="end" font-weight="bold">13432</text>
<text x="1546" y="263.2" font-size="16" fill="#000" font-family='"Liberation Sans", "Noto Sans CJK SC", sans-serif' font-weight="350">金额</text>
<text x="1662.3" y="263.2" font-size="16" fill="#1e8296" text-anchor="end" font-family='"Liberation Sans", "Noto Sans CJK SC", sans-serif' font-weight="350">亿</text>
<text x="1646.3" y="262.7" font-size="14" fill="#1e8296" text-anchor="end" font-weight="bold">2473</text>
<text x="1427" y="297.5" font-size="16" fill="#000" font-family='"Liberation Sans", "Noto Sans CJK SC", sans-serif' font-weight="350">总市值</text>
<text x="1662.3" y="297.5" font-size="16" fill="#1e8296" text-anchor="end" font-family='"Liberation Sans", "Noto Sans CJK SC", sans-serif' font-weight="350">亿</text>
<text x="1646.3" y="297" font-size="14" fill="#1e8296" text-anchor="end" font-weight="bold">494342</text>
<text x="1427" y="330.5" font-size="16" fill="#000" font-family='"Liberation Sans", "Noto Sans CJK SC", sans-serif' font-weight="350">流通市值</text>
<text x="1662.3" y="330.5" font-size="16" fill="#1e8296" text-anchor="end" font-family='"Liberation Sans", "Noto Sans CJK SC", sans-serif' font-weight="350">亿</text>
<text x="1646.3" y="330" font-size="14" fill="#1e8296" text-anchor="end" font-weight="bold">377579</text>
<text x="1427" y="363.8" font-size="16" fill="#000" font-family='"Liberation Sans", "Noto Sans CJK SC", sans-serif' font-weight="350">委卖量</text>
<text x="1544" y="363.8" font-size="16" fill="#109010" text-anchor="end" font-family='"Liberation Sans", "Noto Sans CJK SC", sans-serif' font-weight="350">万</text>
<text x="1528" y="363.3" font-size="14" fill="#109010" text-anchor="end" font-weight="bold">2455</text>
<text x="1547.5" y="363.8" font-size="16" fill="#000" font-family='"Liberation Sans", "Noto Sans CJK SC", sans-serif' font-weight="350">上涨家数</text>
<text x="1662.6" y="363.3" font-size="14" fill="#c01820" text-anchor="end" font-weight="bold">162</text>
<text x="1427" y="393.2" font-size="16" fill="#000" font-family='"Liberation Sans", "Noto Sans CJK SC", sans-serif' font-weight="350">委买量</text>
<text x="1544" y="393.2" font-size="16" fill="#c01820" text-anchor="end" font-family='"Liberation Sans", "Noto Sans CJK SC", sans-serif' font-weight="350">万</text>
<text x="1528" y="392.7" font-size="14" fill="#c01820" text-anchor="end" font-weight="bold">1378</text>
<text x="1547.5" y="393.2" font-size="16" fill="#000" font-family='"Liberation Sans", "Noto Sans CJK SC", sans-serif' font-weight="350">平盘家数</text>
<text x="1662.6" y="392.7" font-size="14" fill="#1e8296" text-anchor="end" font-weight="bold">5</text>
<text x="1427" y="423.9" font-size="16" fill="#000" font-family='"Liberation Sans", "Noto Sans CJK SC", sans-serif' font-weight="350">卖金额</text>
<text x="1544" y="423.9" font-size="16" fill="#1e8296" text-anchor="end" font-family='"Liberation Sans", "Noto Sans CJK SC", sans-serif' font-weight="350">亿</text>
<text x="1528" y="423.4" font-size="14" fill="#1e8296" text-anchor="end" font-weight="bold">36.86</text>
<text x="1547.5" y="423.9" font-size="16" fill="#000" font-family='"Liberation Sans", "Noto Sans CJK SC", sans-serif' font-weight="350">下跌家数</text>
<text x="1662.6" y="423.4" font-size="14" fill="#109010" text-anchor="end" font-weight="bold">133</text>
<text x="1427" y="453.8" font-size="16" fill="#000" font-family='"Liberation Sans", "Noto Sans CJK SC", sans-serif' font-weight="350">买金额</text>
<text x="1544" y="453.8" font-size="16" fill="#1e8296" text-anchor="end" font-family='"Liberation Sans", "Noto Sans CJK SC", sans-serif' font-weight="350">亿</text>
<text x="1528" y="453.3" font-size="14" fill="#1e8296" text-anchor="end" font-weight="bold">41.27</text>
<text x="1547.5" y="453.8" font-size="16" fill="#000" font-family='"Liberation Sans", "Noto Sans CJK SC", sans-serif' font-weight="350">市盈</text>
<text x="1662.6" y="453.3" font-size="14" fill="#000" text-anchor="end" font-weight="bold">11.82</text>
<text x="1427" y="483.5" font-size="16" fill="#000" font-family='"Liberation Sans", "Noto Sans CJK SC", sans-serif' font-weight="350">换手</text>
<text x="1544" y="483" font-size="14" fill="#1e8296" text-anchor="end" font-weight="bold">0.46%</text>
<text x="1547.5" y="483.5" font-size="16" fill="#000" font-family='"Liberation Sans", "Noto Sans CJK SC", sans-serif' font-weight="350">市盈(动)</text>
<text x="1662.6" y="483" font-size="14" fill="#000" text-anchor="end" font-weight="bold">10.75</text>
<text x="1427" y="514.0" font-size="16" fill="#000" font-family='"Liberation Sans", "Noto Sans CJK SC", sans-serif' font-weight="350">均价</text>
<text x="1544" y="513.5" font-size="14" fill="#000" text-anchor="end" font-weight="bold">–</text>
<text x="1547.5" y="514.0" font-size="16" fill="#000" font-family='"Liberation Sans", "Noto Sans CJK SC", sans-serif' font-weight="350">市净率</text>
<text x="1662.6" y="513.5" font-size="14" fill="#000" text-anchor="end" font-weight="bold">1.21</text>
<text x="1426.5" y="544.1" font-size="16" fill="#000" font-family='"Liberation Sans", "Noto Sans CJK SC", sans-serif' font-weight="350">现价</text>
<text x="1498.2" y="543.5" font-size="14" fill="#d02838" textLength="45.4" lengthAdjust="spacingAndGlyphs">3836.70</text>
<text x="1580" y="543.5" font-size="14" fill="#000" textLength="65.5" lengthAdjust="spacingAndGlyphs">2023-06-09,</text>
<text x="1661.5" y="544" font-size="16" fill="#000" text-anchor="end" font-family='"Liberation Sans", "Noto Sans CJK SC", sans-serif' font-weight="350">五</text>
<rect x="1469" y="582.2" width="151.4000000000001" height="1" fill="#626262"/>
<rect x="1469" y="606.0" width="151.4000000000001" height="1" fill="#626262"/>
<rect x="1469" y="629.8" width="151.4000000000001" height="1" fill="#626262"/>
<rect x="1469" y="653.5" width="151.4000000000001" height="1" fill="#626262"/>
<rect x="1469" y="701.0" width="151.4000000000001" height="1" fill="#626262"/>
<rect x="1469" y="724.8" width="151.4000000000001" height="1" fill="#626262"/>
<rect x="1469" y="748.5" width="151.4000000000001" height="1" fill="#626262"/>
<rect x="1469" y="772.2" width="151.4000000000001" height="1" fill="#626262"/>
<rect x="1469" y="822.2" width="151.4000000000001" height="1" fill="#626262"/>
<rect x="1469" y="846.9" width="151.4000000000001" height="1" fill="#626262"/>
<rect x="1469" y="872.0" width="151.4000000000001" height="1" fill="#626262"/>
<rect x="1507.1" y="558.5" width="1" height="340" fill="#626262"/>
<rect x="1582.4" y="558.5" width="1" height="340" fill="#626262"/>
<line x1="1488.6" y1="559" x2="1488.6" y2="898" stroke="#555" stroke-width="1" stroke-dasharray="1 2"/>
<line x1="1526.4" y1="559" x2="1526.4" y2="898" stroke="#555" stroke-width="1" stroke-dasharray="1 2"/>
<line x1="1563.9" y1="559" x2="1563.9" y2="898" stroke="#555" stroke-width="1" stroke-dasharray="1 2"/>
<line x1="1601.6" y1="559" x2="1601.6" y2="898" stroke="#555" stroke-width="1" stroke-dasharray="1 2"/>
<rect x="1544.4" y="558.5" width="2" height="340" fill="#555"/>
<rect x="1469" y="677" width="151.4000000000001" height="2.6" fill="#5a5a5a"/>
<rect x="1469" y="558" width="151.4000000000001" height="1" fill="#000"/>
<rect x="1468" y="558" width="1" height="341" fill="#000"/>
<rect x="1619.9" y="558" width="1" height="239" fill="#000"/>
<rect x="1469" y="795.6" width="151.4000000000001" height="1.8" fill="#000"/>
<rect x="1619.7" y="797" width="1.4" height="101" fill="#c87820"/>
<text x="1466.6" y="563.8" font-size="12" fill="#d02838" text-anchor="end">3858</text>
<text x="1622.2" y="563.8" font-size="12" fill="#d02838">1.00%</text>
<text x="1466.6" y="587.55" font-size="12" fill="#d02838" text-anchor="end">3851</text>
<text x="1622.2" y="587.55" font-size="12" fill="#d02838">0.80%</text>
<text x="1466.6" y="611.3" font-size="12" fill="#d02838" text-anchor="end">3843</text>
<text x="1622.2" y="611.3" font-size="12" fill="#d02838">0.60%</text>
<text x="1466.6" y="635.05" font-size="12" fill="#d02838" text-anchor="end">3836</text>
<text x="1622.2" y="635.05" font-size="12" fill="#d02838">0.40%</text>
<text x="1466.6" y="658.8" font-size="12" fill="#d02838" text-anchor="end">3828</text>
<text x="1622.2" y="658.8" font-size="12" fill="#d02838">0.20%</text>
<text x="1466.6" y="682.55" font-size="12" fill="#000" text-anchor="end">3820</text>
<text x="1622.2" y="682.55" font-size="12" fill="#000">0.00%</text>
<text x="1466.6" y="706.3" font-size="12" fill="#22a022" text-anchor="end">3813</text>
<text x="1622.2" y="706.3" font-size="12" fill="#22a022">0.20%</text>
<text x="1466.6" y="730.05" font-size="12" fill="#22a022" text-anchor="end">3805</text>
<text x="1622.2" y="730.05" font-size="12" fill="#22a022">0.40%</text>
<text x="1466.6" y="753.8" font-size="12" fill="#22a022" text-anchor="end">3797</text>
<text x="1622.2" y="753.8" font-size="12" fill="#22a022">0.60%</text>
<text x="1466.6" y="777.55" font-size="12" fill="#22a022" text-anchor="end">3790</text>
<text x="1622.2" y="777.55" font-size="12" fill="#22a022">0.80%</text>
<text x="1466.6" y="801.3" font-size="12" fill="#22a022" text-anchor="end">3782</text>
<text x="1622.2" y="801.3" font-size="12" fill="#22a022">1.00%</text>
<text x="1466.6" y="827.0" font-size="12" fill="#2b8fb5" text-anchor="end">5132</text>
<text x="1466.6" y="851.6999999999999" font-size="12" fill="#2b8fb5" text-anchor="end">3444</text>
<text x="1466.6" y="876.8" font-size="12" fill="#2b8fb5" text-anchor="end">1756</text>
<rect x="1431.5" y="884.5" width="36" height="13.5" fill="#fff" stroke="#666" stroke-width="1"/>
<text x="1432.6" y="896" font-size="12" fill="#2b8fb5" textLength="33.6" lengthAdjust="spacingAndGlyphs">X1000</text>
<g id="minivol">
<rect x="1469.5" y="888" width="1" height="10" fill="#2090c0"/>
<rect x="1470" y="864.6" width="1" height="33.4" fill="#be6e1e"/>
<rect x="1471" y="873.7" width="1" height="24.3" fill="#1c961c"/>
<rect x="1472" y="874.5" width="1" height="23.5" fill="#1c961c"/>
<rect x="1473" y="880.6" width="1" height="17.4" fill="#1c961c"/>
<rect x="1474" y="879.8" width="1" height="18.2" fill="#1c961c"/>
<rect x="1475" y="882.7" width="1" height="15.3" fill="#be6e1e"/>
<rect x="1476" y="883.0" width="1" height="15.0" fill="#1c961c"/>
<rect x="1477" y="882.3" width="1" height="15.7" fill="#be6e1e"/>
<rect x="1478" y="882.0" width="1" height="16.0" fill="#1c961c"/>
<rect x="1479" y="882.9" width="1" height="15.1" fill="#1c961c"/>
<rect x="1480" y="884.1" width="1" height="13.9" fill="#be6e1e"/>
<rect x="1481" y="883.7" width="1" height="14.3" fill="#be6e1e"/>
<rect x="1482" y="884.7" width="1" height="13.3" fill="#be6e1e"/>
<rect x="1483" y="885.2" width="1" height="12.8" fill="#be6e1e"/>
<rect x="1484" y="884.8" width="1" height="13.2" fill="#1c961c"/>
<rect x="1485" y="878.0" width="1" height="20.0" fill="#1c961c"/>
<rect x="1486" y="885.9" width="1" height="12.1" fill="#1c961c"/>
<rect x="1487" y="886.3" width="1" height="11.7" fill="#be6e1e"/>
<rect x="1488" y="885.7" width="1" height="12.3" fill="#1c961c"/>
<rect x="1489" y="886.3" width="1" height="11.7" fill="#1c961c"/>
<rect x="1490" y="887.6" width="1" height="10.4" fill="#be6e1e"/>
<rect x="1491" y="888.0" width="1" height="10.0" fill="#be6e1e"/>
<rect x="1492" y="887.7" width="1" height="10.3" fill="#be6e1e"/>
<rect x="1493" y="887.6" width="1" height="10.4" fill="#be6e1e"/>
<rect x="1494" y="887.4" width="1" height="10.6" fill="#1c961c"/>
<rect x="1495" y="889.1" width="1" height="8.9" fill="#be6e1e"/>
<rect x="1496" y="887.5" width="1" height="10.5" fill="#be6e1e"/>
<rect x="1497" y="887.3" width="1" height="10.7" fill="#be6e1e"/>
<rect x="1498" y="889.0" width="1" height="9.0" fill="#1c961c"/>
<rect x="1499" y="887.7" width="1" height="10.3" fill="#be6e1e"/>
<rect x="1500" y="888.9" width="1" height="9.1" fill="#be6e1e"/>
<rect x="1501" y="887.4" width="1" height="10.6" fill="#1c961c"/>
<rect x="1502" y="888.9" width="1" height="9.1" fill="#be6e1e"/>
<rect x="1503" y="888.9" width="1" height="9.1" fill="#be6e1e"/>
<rect x="1504" y="887.7" width="1" height="10.3" fill="#be6e1e"/>
<rect x="1505" y="889.3" width="1" height="8.7" fill="#be6e1e"/>
<rect x="1506" y="890.0" width="1" height="8.0" fill="#1c961c"/>
<rect x="1507" y="890.1" width="1" height="7.9" fill="#1c961c"/>
<rect x="1508" y="886.5" width="1" height="11.5" fill="#be6e1e"/>
<rect x="1509" y="890.1" width="1" height="7.9" fill="#be6e1e"/>
<rect x="1510" y="888.8" width="1" height="9.2" fill="#1c961c"/>
<rect x="1511" y="890.1" width="1" height="7.9" fill="#1c961c"/>
<rect x="1512" y="890.3" width="1" height="7.7" fill="#be6e1e"/>
<rect x="1513" y="889.2" width="1" height="8.8" fill="#1c961c"/>
<rect x="1514" y="890.6" width="1" height="7.4" fill="#1c961c"/>
<rect x="1515" y="890.5" width="1" height="7.5" fill="#be6e1e"/>
<rect x="1516" y="886.5" width="1" height="11.5" fill="#be6e1e"/>
<rect x="1517" y="890.4" width="1" height="7.6" fill="#be6e1e"/>
<rect x="1518" y="890.9" width="1" height="7.1" fill="#1c961c"/>
<rect x="1519" y="890.7" width="1" height="7.3" fill="#1c961c"/>
<rect x="1520" y="890.5" width="1" height="7.5" fill="#be6e1e"/>
<rect x="1521" y="889.5" width="1" height="8.5" fill="#be6e1e"/>
<rect x="1522" y="890.2" width="1" height="7.8" fill="#1c961c"/>
<rect x="1523" y="891.0" width="1" height="7.0" fill="#be6e1e"/>
<rect x="1524" y="889.8" width="1" height="8.2" fill="#1c961c"/>
<rect x="1525" y="891.0" width="1" height="7.0" fill="#be6e1e"/>
<rect x="1526" y="890.2" width="1" height="7.8" fill="#1c961c"/>
<rect x="1527" y="891.2" width="1" height="6.8" fill="#1c961c"/>
<rect x="1528" y="890.1" width="1" height="7.9" fill="#1c961c"/>
<rect x="1529" y="885.5" width="1" height="12.5" fill="#be6e1e"/>
<rect x="1530" y="891.5" width="1" height="6.5" fill="#1c961c"/>
<rect x="1531" y="891.2" width="1" height="6.8" fill="#1c961c"/>
<rect x="1532" y="891.1" width="1" height="6.9" fill="#1c961c"/>
<rect x="1533" y="890.5" width="1" height="7.5" fill="#be6e1e"/>
<rect x="1534" y="891.3" width="1" height="6.7" fill="#1c961c"/>
<rect x="1535" y="891.5" width="1" height="6.5" fill="#be6e1e"/>
<rect x="1536" y="890.6" width="1" height="7.4" fill="#1c961c"/>
<rect x="1537" y="890.5" width="1" height="7.5" fill="#be6e1e"/>
<rect x="1538" y="889.9" width="1" height="8.1" fill="#be6e1e"/>
<rect x="1539" y="891.6" width="1" height="6.4" fill="#be6e1e"/>
<rect x="1540" y="890.8" width="1" height="7.2" fill="#be6e1e"/>
<rect x="1541" y="891.3" width="1" height="6.7" fill="#be6e1e"/>
<rect x="1542" y="890.6" width="1" height="7.4" fill="#be6e1e"/>
<rect x="1543" y="890.9" width="1" height="7.1" fill="#1c961c"/>
<rect x="1544" y="889.8" width="1" height="8.2" fill="#1c961c"/>
<rect x="1545" y="880.0" width="1" height="18.0" fill="#1c961c"/>
<rect x="1546" y="891.3" width="1" height="6.7" fill="#be6e1e"/>
<rect x="1547" y="891.6" width="1" height="6.4" fill="#1c961c"/>
<rect x="1548" y="890.3" width="1" height="7.7" fill="#1c961c"/>
<rect x="1549" y="891.6" width="1" height="6.4" fill="#1c961c"/>
<rect x="1550" y="890.7" width="1" height="7.3" fill="#1c961c"/>
<rect x="1551" y="891.0" width="1" height="7.0" fill="#1c961c"/>
<rect x="1552" y="891.5" width="1" height="6.5" fill="#1c961c"/>
<rect x="1553" y="890.3" width="1" height="7.7" fill="#1c961c"/>
<rect x="1554" y="890.3" width="1" height="7.7" fill="#1c961c"/>
<rect x="1555" y="890.2" width="1" height="7.8" fill="#1c961c"/>
<rect x="1556" y="891.0" width="1" height="7.0" fill="#1c961c"/>
<rect x="1557" y="890.0" width="1" height="8.0" fill="#1c961c"/>
<rect x="1558" y="890.8" width="1" height="7.2" fill="#1c961c"/>
<rect x="1559" y="890.0" width="1" height="8.0" fill="#1c961c"/>
<rect x="1560" y="890.5" width="1" height="7.5" fill="#be6e1e"/>
<rect x="1561" y="890.6" width="1" height="7.4" fill="#1c961c"/>
<rect x="1562" y="891.5" width="1" height="6.5" fill="#1c961c"/>
<rect x="1563" y="889.8" width="1" height="8.2" fill="#1c961c"/>
<rect x="1564" y="890.3" width="1" height="7.7" fill="#be6e1e"/>
<rect x="1565" y="890.3" width="1" height="7.7" fill="#1c961c"/>
<rect x="1566" y="890.8" width="1" height="7.2" fill="#1c961c"/>
<rect x="1567" y="891.4" width="1" height="6.6" fill="#1c961c"/>
<rect x="1568" y="891.5" width="1" height="6.5" fill="#1c961c"/>
<rect x="1569" y="890.7" width="1" height="7.3" fill="#be6e1e"/>
<rect x="1570" y="890.3" width="1" height="7.7" fill="#be6e1e"/>
<rect x="1571" y="890.5" width="1" height="7.5" fill="#1c961c"/>
<rect x="1572" y="891.1" width="1" height="6.9" fill="#be6e1e"/>
<rect x="1573" y="884.0" width="1" height="14.0" fill="#be6e1e"/>
<rect x="1574" y="891.2" width="1" height="6.8" fill="#be6e1e"/>
<rect x="1575" y="890.0" width="1" height="8.0" fill="#1c961c"/>
<rect x="1576" y="890.8" width="1" height="7.2" fill="#1c961c"/>
<rect x="1577" y="891.0" width="1" height="7.0" fill="#1c961c"/>
<rect x="1578" y="891.2" width="1" height="6.8" fill="#be6e1e"/>
<rect x="1579" y="890.1" width="1" height="7.9" fill="#1c961c"/>
<rect x="1580" y="890.0" width="1" height="8.0" fill="#be6e1e"/>
<rect x="1581" y="890.6" width="1" height="7.4" fill="#be6e1e"/>
<rect x="1582" y="891.4" width="1" height="6.6" fill="#be6e1e"/>
<rect x="1583" y="890.1" width="1" height="7.9" fill="#1c961c"/>
<rect x="1584" y="890.3" width="1" height="7.7" fill="#1c961c"/>
<rect x="1585" y="891.1" width="1" height="6.9" fill="#be6e1e"/>
<rect x="1586" y="890.8" width="1" height="7.2" fill="#be6e1e"/>
<rect x="1587" y="891.2" width="1" height="6.8" fill="#be6e1e"/>
<rect x="1588" y="890.5" width="1" height="7.5" fill="#be6e1e"/>
<rect x="1589" y="891.0" width="1" height="7.0" fill="#1c961c"/>
<rect x="1590" y="889.8" width="1" height="8.2" fill="#be6e1e"/>
<rect x="1591" y="891.5" width="1" height="6.5" fill="#be6e1e"/>
<rect x="1592" y="890.0" width="1" height="8.0" fill="#be6e1e"/>
<rect x="1593" y="890.3" width="1" height="7.7" fill="#1c961c"/>
<rect x="1594" y="891.0" width="1" height="7.0" fill="#1c961c"/>
<rect x="1595" y="891.6" width="1" height="6.4" fill="#be6e1e"/>
<rect x="1596" y="890.8" width="1" height="7.2" fill="#be6e1e"/>
<rect x="1597" y="890.1" width="1" height="7.9" fill="#be6e1e"/>
<rect x="1598" y="890.9" width="1" height="7.1" fill="#be6e1e"/>
<rect x="1599" y="889.8" width="1" height="8.2" fill="#be6e1e"/>
<rect x="1600" y="889.5" width="1" height="8.5" fill="#1c961c"/>
<rect x="1601" y="888.9" width="1" height="9.1" fill="#1c961c"/>
<rect x="1602" y="888.9" width="1" height="9.1" fill="#be6e1e"/>
<rect x="1603" y="889.0" width="1" height="9.0" fill="#be6e1e"/>
<rect x="1604" y="889.6" width="1" height="8.4" fill="#be6e1e"/>
<rect x="1605" y="888.1" width="1" height="9.9" fill="#be6e1e"/>
<rect x="1606" y="888.7" width="1" height="9.3" fill="#be6e1e"/>
<rect x="1607" y="887.6" width="1" height="10.4" fill="#1c961c"/>
<rect x="1608" y="887.5" width="1" height="10.5" fill="#1c961c"/>
<rect x="1609" y="887.7" width="1" height="10.3" fill="#1c961c"/>
<rect x="1610" y="886.3" width="1" height="11.7" fill="#be6e1e"/>
<rect x="1611" y="885.7" width="1" height="12.3" fill="#1c961c"/>
<rect x="1612" y="886.7" width="1" height="11.3" fill="#be6e1e"/>
<rect x="1613" y="885.3" width="1" height="12.7" fill="#1c961c"/>
<rect x="1614" y="885.2" width="1" height="12.8" fill="#1c961c"/>
<rect x="1615" y="883.8" width="1" height="14.2" fill="#1c961c"/>
<rect x="1616" y="883.2" width="1" height="14.8" fill="#be6e1e"/>
<rect x="1617" y="883.2" width="1" height="14.8" fill="#be6e1e"/>
<rect x="1618" y="882.6" width="1" height="15.4" fill="#1c961c"/>
<rect x="1619" y="880.0" width="1" height="18.0" fill="#1c961c"/>
</g>
<g shape-rendering="geometricPrecision">
<polyline points="1468.4,670.5 1470.4,668.1 1471.4,662.2 1472.1,671.0 1472.9,661.2 1473.3,650.4 1474.3,669.1 1475.3,662.2 1476.0,649.4 1476.8,663.2 1477.3,676.4 1478.7,675.0 1479.7,667.1 1480.7,663.2 1481.7,661.2 1482.5,650.4 1483.6,656.3 1484.6,659.3 1485.6,673.5 1487.1,662.2 1488.1,673.0 1489.0,669.1 1490.0,678.9 1491.0,688.7 1492.5,690.7 1493.5,695.6 1494.4,687.7 1495.9,683.8 1496.9,676.9 1498.4,678.9 1499.3,687.7 1500.3,692.6 1501.8,695.1 1502.8,688.7 1504.3,684.8 1505.7,682.8 1507.2,688.7 1508.2,697.5 1510.1,696.5 1511.1,701.0 1512.6,697.5 1513.6,687.7 1514.1,681.8 1515.2,684.8 1516.5,696.1 1518.0,685.8 1519.5,688.7 1520.4,695.1 1522.4,692.6 1523.4,683.8 1524.9,687.7 1526.0,675.9 1527.8,676.9 1529.3,677.9 1530.0,668.6 1531.2,678.9 1532.7,682.8 1533.7,689.7 1535.2,687.7 1536.6,690.7 1538.1,692.6 1539.1,695.1 1540.6,686.7 1542.5,688.7 1544.5,687.7 1545.5,682.8 1546.3,672.5 1547.4,684.8 1548.9,679.9 1549.9,691.1 1551.4,682.8 1552.8,689.7 1554.3,683.8 1555.8,682.8 1556.8,687.7 1557.7,694.1 1559.2,690.7 1560.7,693.6 1562.2,699.0 1563.1,692.6 1565.1,691.6 1567.1,687.7 1568.0,675.0 1569.5,673.0 1570.5,663.2 1571.5,654.3 1572.5,661.2 1572.9,639.6 1574.4,641.6 1575.4,649.4 1576.9,646.5 1577.9,649.4 1579.3,659.3 1580.3,665.1 1581.3,657.3 1582.8,655.3 1584.7,658.3 1586.7,659.3 1588.7,657.3 1589.1,647.5 1590.6,651.4 1591.6,655.3 1593.6,653.4 1596.5,652.4 1598.5,648.5 1599.4,639.6 1600.9,644.5 1601.4,633.7 1602.4,643.6 1603.9,643.6 1605.3,650.4 1606.8,647.5 1608.3,642.6 1610.2,638.6 1612.2,639.6 1614.2,638.2 1616.6,637.7 1618.1,632.8 1619.6,631.8 1620.3,625.4" fill="none" stroke="#17808e" stroke-width="2.2" stroke-linejoin="round" stroke-linecap="round"/>
</g>
<rect x="1424" y="898" width="242" height="2" fill="#000"/>
<g shape-rendering="geometricPrecision">
<polygon points="1425.9,901 1470.8,901 1463.7,916 1433,916" fill="#000"/>
<polygon points="1473.8,901 1500.3,901 1504,908.3 1500.3,916 1472,916 1468.7,908.3" fill="#c6c6c6"/>
<polygon points="1502,901 1546.9,901 1540.2,916 1509,916" fill="#c6c6c6"/>
</g>
<text x="1447.8" y="912.8" font-size="12.5" fill="#fff" text-anchor="middle" font-family='"Liberation Sans", "Noto Sans CJK SC", sans-serif'>分时</text>
<text x="1485.4" y="912.8" font-size="12.5" fill="#111" text-anchor="middle" font-family='"Liberation Sans", "Noto Sans CJK SC", sans-serif'>筹码</text>
<text x="1523.8" y="912.8" font-size="12.5" fill="#111" text-anchor="middle" font-family='"Liberation Sans", "Noto Sans CJK SC", sans-serif'>火焰</text>
</g>
</svg></body></html>
